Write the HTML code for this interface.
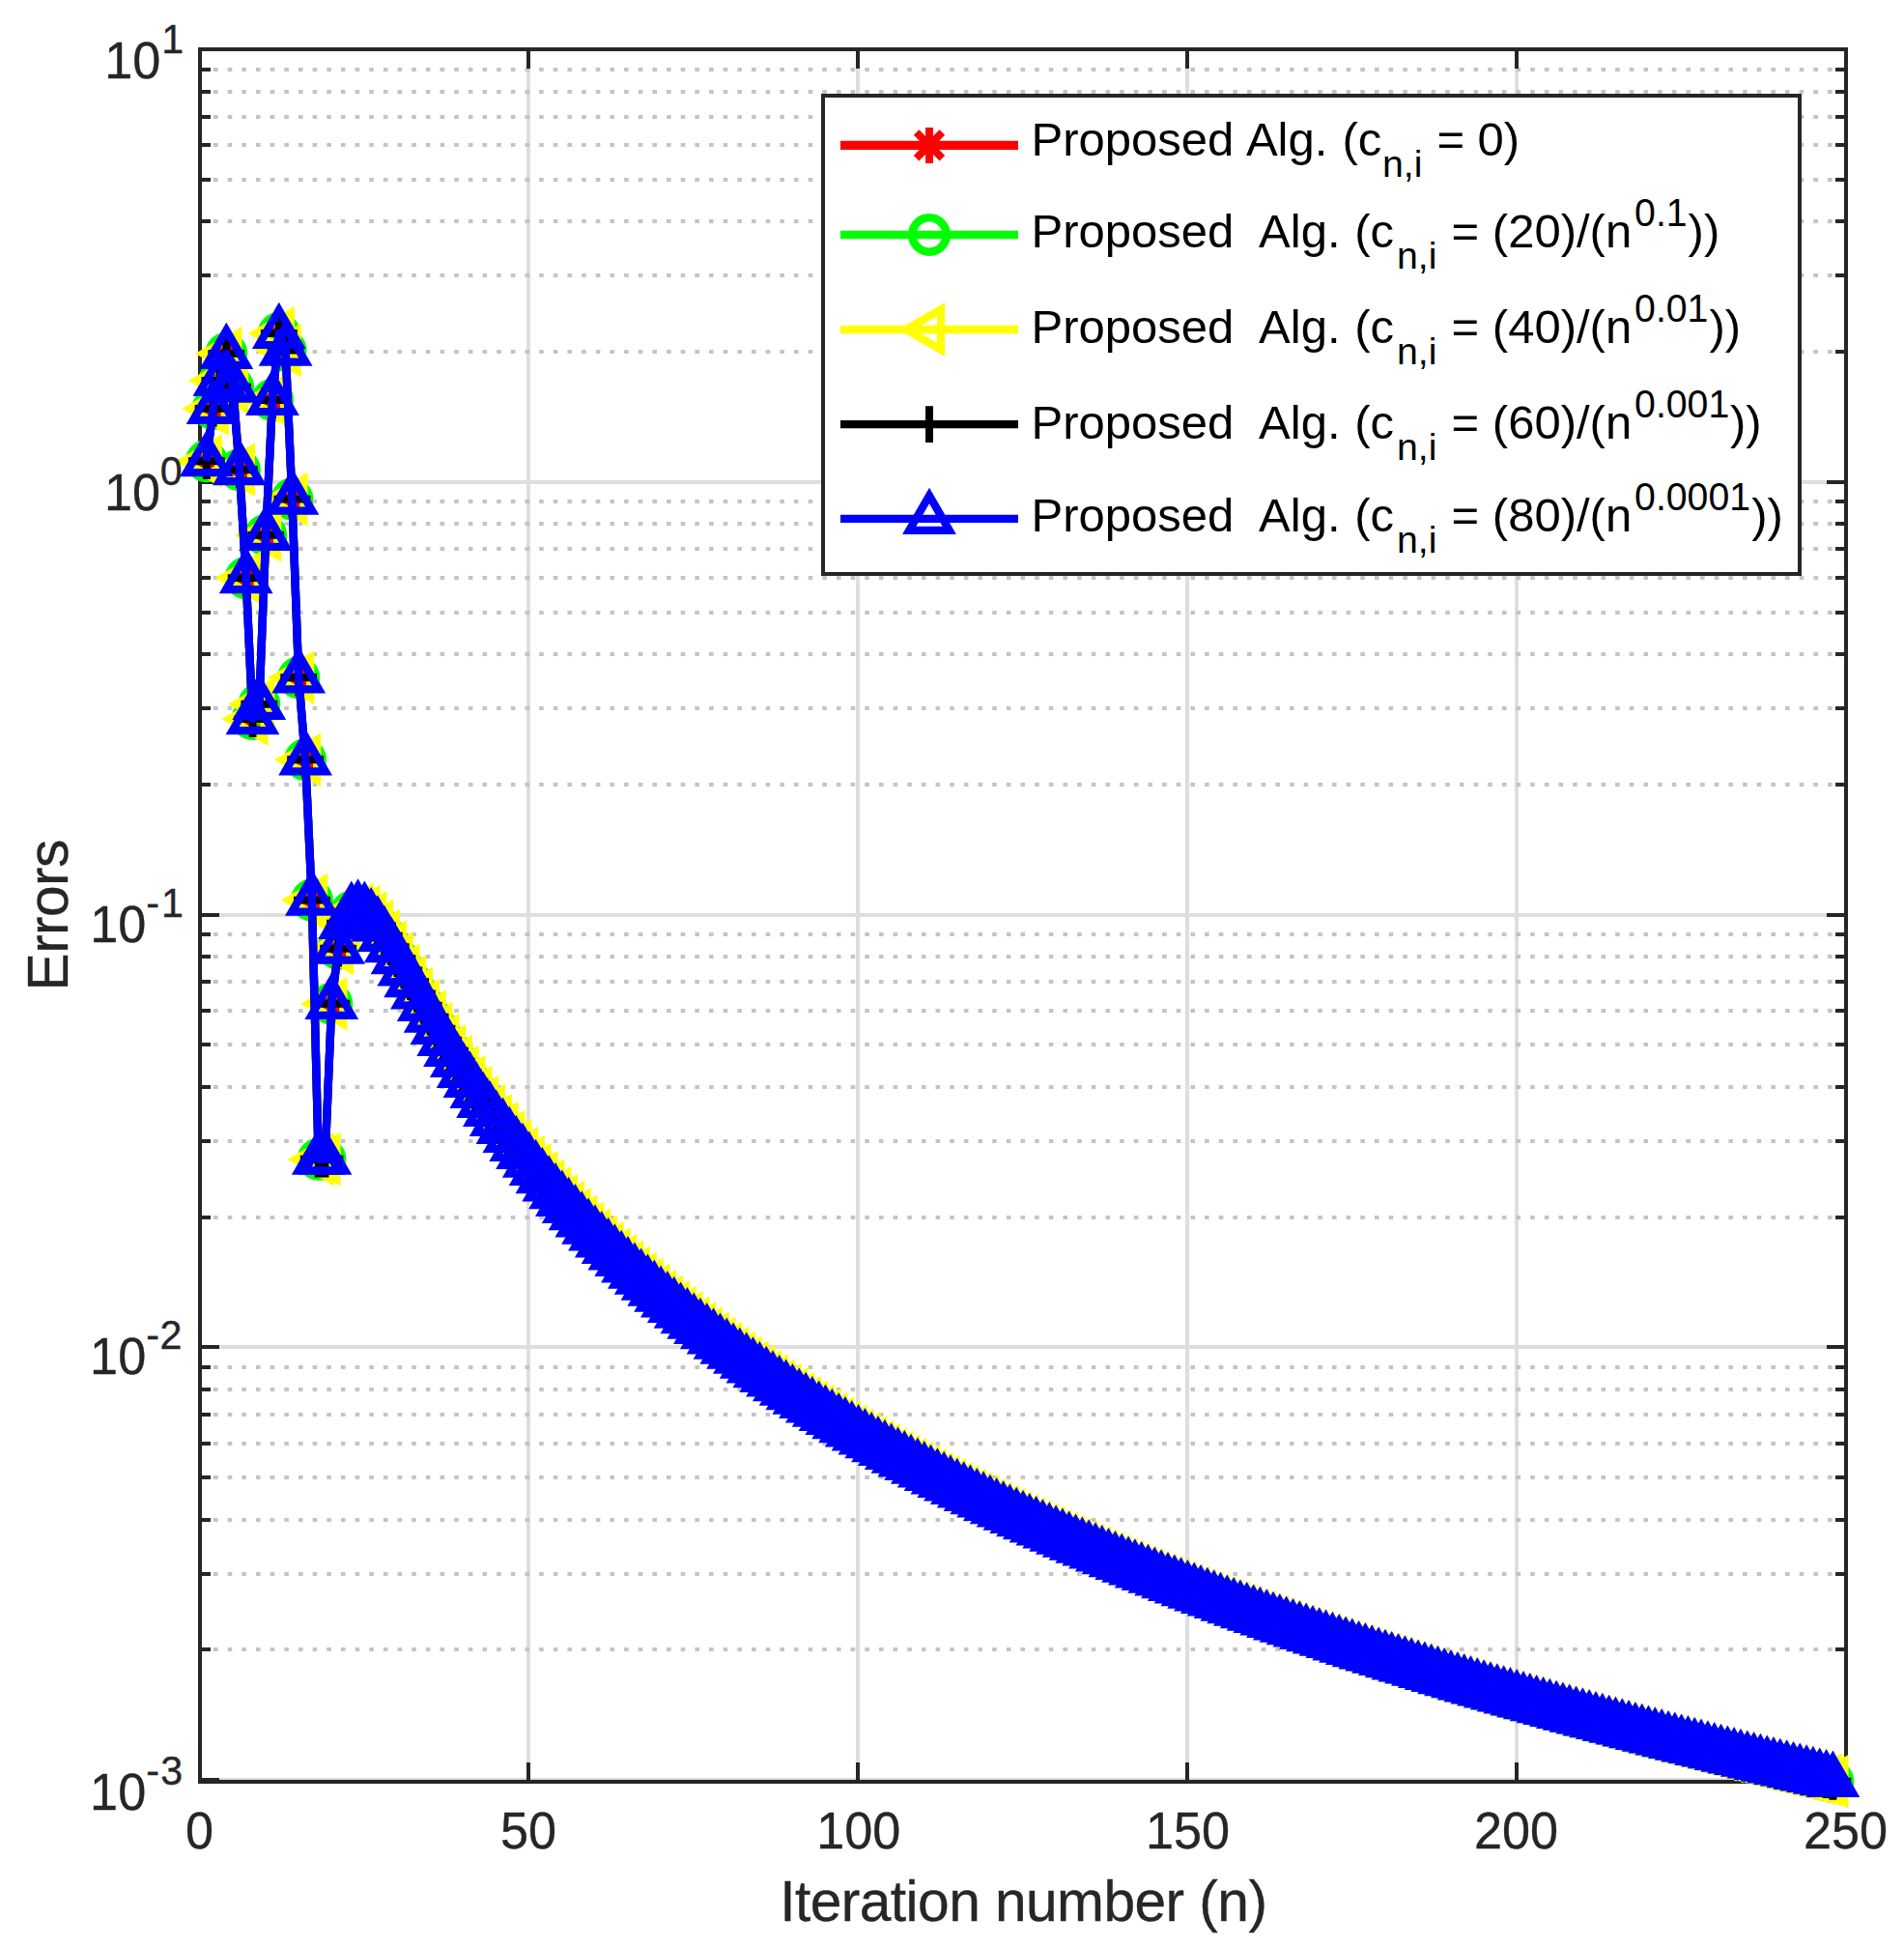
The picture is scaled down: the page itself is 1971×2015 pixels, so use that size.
<!DOCTYPE html>
<html><head><meta charset="utf-8"><title>Errors vs Iteration number</title>
<style>html,body{margin:0;padding:0;background:#fff}</style></head>
<body>
<svg width="1971" height="2015" viewBox="0 0 1971 2015" style="display:block">
<rect width="1971" height="2015" fill="#fff"/>
<defs>
<g id="mA"><path d="M-18.5 0H18.5M0 -18.5V18.5M-13.4 -13.4L13.4 13.4M-13.4 13.4L13.4 -13.4" fill="none" stroke="#f00" stroke-width="7.9"/></g>
<circle id="mO" r="17.7" fill="none" stroke="#0f0" stroke-width="8.6"/>
<path id="mL" d="M-24 0L12 -20.8V20.8Z" fill="none" stroke="#ff0" stroke-width="8.2" stroke-miterlimit="10"/>
<path id="mP" d="M-18.9 0H18.9M0 -18.9V18.9" fill="none" stroke="#000" stroke-width="7.9"/>
<path id="mT" d="M0 -24L20.8 12H-20.8Z" fill="none" stroke="#00f" stroke-width="8.2" stroke-miterlimit="10"/>
</defs>
<path d="M547.0 51.0V1844.0M888.0 51.0V1844.0M1229.0 51.0V1844.0M1570.0 51.0V1844.0M207.0 499H1911.0M207.0 947H1911.0M207.0 1394H1911.0M207.0 1842H1911.0" stroke="#dedede" stroke-width="4" fill="none"/>
<path d="M221.0 364H1900.0M221.0 285H1900.0M221.0 229H1900.0M221.0 186H1900.0M221.0 150H1900.0M221.0 121H1900.0M221.0 95H1900.0M221.0 72H1900.0M221.0 812H1900.0M221.0 733H1900.0M221.0 677H1900.0M221.0 634H1900.0M221.0 598H1900.0M221.0 568H1900.0M221.0 542H1900.0M221.0 519H1900.0M221.0 1260H1900.0M221.0 1181H1900.0M221.0 1125H1900.0M221.0 1081H1900.0M221.0 1046H1900.0M221.0 1016H1900.0M221.0 990H1900.0M221.0 967H1900.0M221.0 1707H1900.0M221.0 1629H1900.0M221.0 1573H1900.0M221.0 1529H1900.0M221.0 1494H1900.0M221.0 1464H1900.0M221.0 1438H1900.0M221.0 1415H1900.0" stroke="#c4c4c4" stroke-width="4" stroke-dasharray="4.6 10.058" fill="none"/>
<rect x="207.0" y="51.0" width="1704.0" height="1793.0" fill="none" stroke="#262626" stroke-width="4"/>
<path d="M547.0 1844.0v-20M547.0 51.0v20M888.0 1844.0v-20M888.0 51.0v20M1229.0 1844.0v-20M1229.0 51.0v20M1570.0 1844.0v-20M1570.0 51.0v20M207.0 51h20M1911.0 51h-20M207.0 499h20M1911.0 499h-20M207.0 947h20M1911.0 947h-20M207.0 1394h20M1911.0 1394h-20M207.0 1842h20M1911.0 1842h-20M207.0 364h11M1911.0 364h-11M207.0 285h11M1911.0 285h-11M207.0 229h11M1911.0 229h-11M207.0 186h11M1911.0 186h-11M207.0 150h11M1911.0 150h-11M207.0 121h11M1911.0 121h-11M207.0 95h11M1911.0 95h-11M207.0 72h11M1911.0 72h-11M207.0 812h11M1911.0 812h-11M207.0 733h11M1911.0 733h-11M207.0 677h11M1911.0 677h-11M207.0 634h11M1911.0 634h-11M207.0 598h11M1911.0 598h-11M207.0 568h11M1911.0 568h-11M207.0 542h11M1911.0 542h-11M207.0 519h11M1911.0 519h-11M207.0 1260h11M1911.0 1260h-11M207.0 1181h11M1911.0 1181h-11M207.0 1125h11M1911.0 1125h-11M207.0 1081h11M1911.0 1081h-11M207.0 1046h11M1911.0 1046h-11M207.0 1016h11M1911.0 1016h-11M207.0 990h11M1911.0 990h-11M207.0 967h11M1911.0 967h-11M207.0 1707h11M1911.0 1707h-11M207.0 1629h11M1911.0 1629h-11M207.0 1573h11M1911.0 1573h-11M207.0 1529h11M1911.0 1529h-11M207.0 1494h11M1911.0 1494h-11M207.0 1464h11M1911.0 1464h-11M207.0 1438h11M1911.0 1438h-11M207.0 1415h11M1911.0 1415h-11" stroke="#262626" stroke-width="4" fill="none"/>
<polyline points="213.8,477.2 220.6,422.9 227.4,393.9 234.3,365.9 241.1,400.6 247.9,486.2 254.7,598.1 261.5,744.1 268.3,728.8 275.2,553.9 282.0,414.0 288.8,345.0 295.6,362.6 302.4,516.6 309.2,701.3 316.1,786.3 322.9,931.6 329.7,1199.7 336.5,1199.7 343.3,1038.8 350.1,981.7 357.0,955.8 363.8,943.8 370.6,941.5 377.4,943.7 384.2,950.2 391.0,958.5 397.8,968.8 404.7,980.1 411.5,992.1 418.3,1004.4 425.1,1016.2 431.9,1028.5 438.7,1040.8 445.6,1052.7 452.4,1064.8 459.2,1076.8 466.0,1087.8 472.8,1098.8 479.6,1109.9 486.5,1119.8 493.3,1130.8 500.1,1140.8 506.9,1149.9 513.7,1159.8 520.5,1167.8 527.4,1177.0 534.2,1185.9 541.0,1193.9 547.8,1202.7 554.6,1210.9 561.4,1219.1 568.2,1227.4 575.1,1235.2 581.9,1242.8 588.7,1250.0 595.5,1257.2 602.3,1264.5 609.1,1271.6 616.0,1278.5 622.8,1285.3 629.6,1291.9 636.4,1298.5 643.2,1305.0 650.0,1311.3 656.9,1317.6 663.7,1323.7 670.5,1329.7 677.3,1335.7 684.1,1341.6 690.9,1347.3 697.8,1353.0 704.6,1358.6 711.4,1364.1 718.2,1369.6 725.0,1375.0 731.8,1380.2 738.6,1385.5 745.5,1390.6 752.3,1395.7 759.1,1400.7 765.9,1405.7 772.7,1410.6 779.5,1415.4 786.4,1420.1 793.2,1424.9 800.0,1429.5 806.8,1434.1 813.6,1438.6 820.4,1443.1 827.3,1447.6 834.1,1451.9 840.9,1456.3 847.7,1460.6 854.5,1464.8 861.3,1469.0 868.2,1473.1 875.0,1477.2 881.8,1481.3 888.6,1485.3 895.4,1489.3 902.2,1493.2 909.0,1497.1 915.9,1501.0 922.7,1504.8 929.5,1508.6 936.3,1512.3 943.1,1516.0 949.9,1519.7 956.8,1523.3 963.6,1526.9 970.4,1530.5 977.2,1534.0 984.0,1537.5 990.8,1541.0 997.7,1544.4 1004.5,1547.8 1011.3,1551.2 1018.1,1554.5 1024.9,1557.9 1031.7,1561.2 1038.6,1564.4 1045.4,1567.7 1052.2,1570.9 1059.0,1574.1 1065.8,1577.2 1072.6,1580.3 1079.4,1583.4 1086.3,1586.5 1093.1,1589.6 1099.9,1592.6 1106.7,1595.6 1113.5,1598.6 1120.3,1601.6 1127.2,1604.5 1134.0,1607.4 1140.8,1610.3 1147.6,1613.2 1154.4,1616.1 1161.2,1618.9 1168.1,1621.7 1174.9,1624.5 1181.7,1627.3 1188.5,1630.0 1195.3,1632.7 1202.1,1635.5 1209.0,1638.1 1215.8,1640.8 1222.6,1643.5 1229.4,1646.1 1236.2,1648.7 1243.0,1651.3 1249.8,1653.9 1256.7,1656.5 1263.5,1659.0 1270.3,1661.6 1277.1,1664.1 1283.9,1666.6 1290.7,1669.1 1297.6,1671.6 1304.4,1674.0 1311.2,1676.4 1318.0,1678.9 1324.8,1681.3 1331.6,1683.7 1338.5,1686.1 1345.3,1688.4 1352.1,1690.8 1358.9,1693.1 1365.7,1695.4 1372.5,1697.7 1379.4,1700.0 1386.2,1702.3 1393.0,1704.6 1399.8,1706.8 1406.6,1709.1 1413.4,1711.3 1420.2,1713.5 1427.1,1715.7 1433.9,1717.9 1440.7,1720.1 1447.5,1722.3 1454.3,1724.4 1461.1,1726.5 1468.0,1728.7 1474.8,1730.8 1481.6,1732.9 1488.4,1735.0 1495.2,1737.1 1502.0,1739.2 1508.9,1741.2 1515.7,1743.3 1522.5,1745.3 1529.3,1747.3 1536.1,1749.4 1542.9,1751.4 1549.8,1753.4 1556.6,1755.4 1563.4,1757.3 1570.2,1759.3 1577.0,1761.3 1583.8,1763.2 1590.6,1765.2 1597.5,1767.1 1604.3,1769.0 1611.1,1770.9 1617.9,1772.8 1624.7,1774.7 1631.5,1776.6 1638.4,1778.5 1645.2,1780.3 1652.0,1782.2 1658.8,1784.0 1665.6,1785.9 1672.4,1787.7 1679.3,1789.5 1686.1,1791.3 1692.9,1793.2 1699.7,1794.9 1706.5,1796.7 1713.3,1798.5 1720.2,1800.3 1727.0,1802.1 1733.8,1803.8 1740.6,1805.6 1747.4,1807.3 1754.2,1809.0 1761.0,1810.8 1767.9,1812.5 1774.7,1814.2 1781.5,1815.9 1788.3,1817.6 1795.1,1819.3 1801.9,1821.0 1808.8,1822.6 1815.6,1824.3 1822.4,1826.0 1829.2,1827.6 1836.0,1829.3 1842.8,1830.9 1849.7,1832.5 1856.5,1834.1 1863.3,1835.8 1870.1,1837.4 1876.9,1839.0 1883.7,1840.6 1890.6,1842.2 1897.4,1843.8" fill="none" stroke="#f00" stroke-width="8.4" stroke-linejoin="round"/>
<g><use href="#mA" x="213.8" y="477.2"/><use href="#mA" x="220.6" y="422.9"/><use href="#mA" x="227.4" y="393.9"/><use href="#mA" x="234.3" y="365.9"/><use href="#mA" x="241.1" y="400.6"/><use href="#mA" x="247.9" y="486.2"/><use href="#mA" x="254.7" y="598.1"/><use href="#mA" x="261.5" y="744.1"/><use href="#mA" x="268.3" y="728.8"/><use href="#mA" x="275.2" y="553.9"/><use href="#mA" x="282.0" y="414.0"/><use href="#mA" x="288.8" y="345.0"/><use href="#mA" x="295.6" y="362.6"/><use href="#mA" x="302.4" y="516.6"/><use href="#mA" x="309.2" y="701.3"/><use href="#mA" x="316.1" y="786.3"/><use href="#mA" x="322.9" y="931.6"/><use href="#mA" x="329.7" y="1199.7"/><use href="#mA" x="336.5" y="1199.7"/><use href="#mA" x="343.3" y="1038.8"/><use href="#mA" x="350.1" y="981.7"/><use href="#mA" x="357.0" y="955.8"/><use href="#mA" x="363.8" y="943.8"/><use href="#mA" x="370.6" y="941.5"/><use href="#mA" x="377.4" y="943.7"/><use href="#mA" x="384.2" y="950.2"/><use href="#mA" x="391.0" y="958.5"/><use href="#mA" x="397.8" y="968.8"/><use href="#mA" x="404.7" y="980.1"/><use href="#mA" x="411.5" y="992.1"/><use href="#mA" x="418.3" y="1004.4"/><use href="#mA" x="425.1" y="1016.2"/><use href="#mA" x="431.9" y="1028.5"/><use href="#mA" x="438.7" y="1040.8"/><use href="#mA" x="445.6" y="1052.7"/><use href="#mA" x="452.4" y="1064.8"/><use href="#mA" x="459.2" y="1076.8"/><use href="#mA" x="466.0" y="1087.8"/><use href="#mA" x="472.8" y="1098.8"/><use href="#mA" x="479.6" y="1109.9"/><use href="#mA" x="486.5" y="1119.8"/><use href="#mA" x="493.3" y="1130.8"/><use href="#mA" x="500.1" y="1140.8"/><use href="#mA" x="506.9" y="1149.9"/><use href="#mA" x="513.7" y="1159.8"/><use href="#mA" x="520.5" y="1167.8"/><use href="#mA" x="527.4" y="1177.0"/><use href="#mA" x="534.2" y="1185.9"/><use href="#mA" x="541.0" y="1193.9"/><use href="#mA" x="547.8" y="1202.7"/><use href="#mA" x="554.6" y="1210.9"/><use href="#mA" x="561.4" y="1219.1"/><use href="#mA" x="568.2" y="1227.4"/><use href="#mA" x="575.1" y="1235.2"/><use href="#mA" x="581.9" y="1242.8"/><use href="#mA" x="588.7" y="1250.0"/><use href="#mA" x="595.5" y="1257.2"/><use href="#mA" x="602.3" y="1264.5"/><use href="#mA" x="609.1" y="1271.6"/><use href="#mA" x="616.0" y="1278.5"/><use href="#mA" x="622.8" y="1285.3"/><use href="#mA" x="629.6" y="1291.9"/><use href="#mA" x="636.4" y="1298.5"/><use href="#mA" x="643.2" y="1305.0"/><use href="#mA" x="650.0" y="1311.3"/><use href="#mA" x="656.9" y="1317.6"/><use href="#mA" x="663.7" y="1323.7"/><use href="#mA" x="670.5" y="1329.7"/><use href="#mA" x="677.3" y="1335.7"/><use href="#mA" x="684.1" y="1341.6"/><use href="#mA" x="690.9" y="1347.3"/><use href="#mA" x="697.8" y="1353.0"/><use href="#mA" x="704.6" y="1358.6"/><use href="#mA" x="711.4" y="1364.1"/><use href="#mA" x="718.2" y="1369.6"/><use href="#mA" x="725.0" y="1375.0"/><use href="#mA" x="731.8" y="1380.2"/><use href="#mA" x="738.6" y="1385.5"/><use href="#mA" x="745.5" y="1390.6"/><use href="#mA" x="752.3" y="1395.7"/><use href="#mA" x="759.1" y="1400.7"/><use href="#mA" x="765.9" y="1405.7"/><use href="#mA" x="772.7" y="1410.6"/><use href="#mA" x="779.5" y="1415.4"/><use href="#mA" x="786.4" y="1420.1"/><use href="#mA" x="793.2" y="1424.9"/><use href="#mA" x="800.0" y="1429.5"/><use href="#mA" x="806.8" y="1434.1"/><use href="#mA" x="813.6" y="1438.6"/><use href="#mA" x="820.4" y="1443.1"/><use href="#mA" x="827.3" y="1447.6"/><use href="#mA" x="834.1" y="1451.9"/><use href="#mA" x="840.9" y="1456.3"/><use href="#mA" x="847.7" y="1460.6"/><use href="#mA" x="854.5" y="1464.8"/><use href="#mA" x="861.3" y="1469.0"/><use href="#mA" x="868.2" y="1473.1"/><use href="#mA" x="875.0" y="1477.2"/><use href="#mA" x="881.8" y="1481.3"/><use href="#mA" x="888.6" y="1485.3"/><use href="#mA" x="895.4" y="1489.3"/><use href="#mA" x="902.2" y="1493.2"/><use href="#mA" x="909.0" y="1497.1"/><use href="#mA" x="915.9" y="1501.0"/><use href="#mA" x="922.7" y="1504.8"/><use href="#mA" x="929.5" y="1508.6"/><use href="#mA" x="936.3" y="1512.3"/><use href="#mA" x="943.1" y="1516.0"/><use href="#mA" x="949.9" y="1519.7"/><use href="#mA" x="956.8" y="1523.3"/><use href="#mA" x="963.6" y="1526.9"/><use href="#mA" x="970.4" y="1530.5"/><use href="#mA" x="977.2" y="1534.0"/><use href="#mA" x="984.0" y="1537.5"/><use href="#mA" x="990.8" y="1541.0"/><use href="#mA" x="997.7" y="1544.4"/><use href="#mA" x="1004.5" y="1547.8"/><use href="#mA" x="1011.3" y="1551.2"/><use href="#mA" x="1018.1" y="1554.5"/><use href="#mA" x="1024.9" y="1557.9"/><use href="#mA" x="1031.7" y="1561.2"/><use href="#mA" x="1038.6" y="1564.4"/><use href="#mA" x="1045.4" y="1567.7"/><use href="#mA" x="1052.2" y="1570.9"/><use href="#mA" x="1059.0" y="1574.1"/><use href="#mA" x="1065.8" y="1577.2"/><use href="#mA" x="1072.6" y="1580.3"/><use href="#mA" x="1079.4" y="1583.4"/><use href="#mA" x="1086.3" y="1586.5"/><use href="#mA" x="1093.1" y="1589.6"/><use href="#mA" x="1099.9" y="1592.6"/><use href="#mA" x="1106.7" y="1595.6"/><use href="#mA" x="1113.5" y="1598.6"/><use href="#mA" x="1120.3" y="1601.6"/><use href="#mA" x="1127.2" y="1604.5"/><use href="#mA" x="1134.0" y="1607.4"/><use href="#mA" x="1140.8" y="1610.3"/><use href="#mA" x="1147.6" y="1613.2"/><use href="#mA" x="1154.4" y="1616.1"/><use href="#mA" x="1161.2" y="1618.9"/><use href="#mA" x="1168.1" y="1621.7"/><use href="#mA" x="1174.9" y="1624.5"/><use href="#mA" x="1181.7" y="1627.3"/><use href="#mA" x="1188.5" y="1630.0"/><use href="#mA" x="1195.3" y="1632.7"/><use href="#mA" x="1202.1" y="1635.5"/><use href="#mA" x="1209.0" y="1638.1"/><use href="#mA" x="1215.8" y="1640.8"/><use href="#mA" x="1222.6" y="1643.5"/><use href="#mA" x="1229.4" y="1646.1"/><use href="#mA" x="1236.2" y="1648.7"/><use href="#mA" x="1243.0" y="1651.3"/><use href="#mA" x="1249.8" y="1653.9"/><use href="#mA" x="1256.7" y="1656.5"/><use href="#mA" x="1263.5" y="1659.0"/><use href="#mA" x="1270.3" y="1661.6"/><use href="#mA" x="1277.1" y="1664.1"/><use href="#mA" x="1283.9" y="1666.6"/><use href="#mA" x="1290.7" y="1669.1"/><use href="#mA" x="1297.6" y="1671.6"/><use href="#mA" x="1304.4" y="1674.0"/><use href="#mA" x="1311.2" y="1676.4"/><use href="#mA" x="1318.0" y="1678.9"/><use href="#mA" x="1324.8" y="1681.3"/><use href="#mA" x="1331.6" y="1683.7"/><use href="#mA" x="1338.5" y="1686.1"/><use href="#mA" x="1345.3" y="1688.4"/><use href="#mA" x="1352.1" y="1690.8"/><use href="#mA" x="1358.9" y="1693.1"/><use href="#mA" x="1365.7" y="1695.4"/><use href="#mA" x="1372.5" y="1697.7"/><use href="#mA" x="1379.4" y="1700.0"/><use href="#mA" x="1386.2" y="1702.3"/><use href="#mA" x="1393.0" y="1704.6"/><use href="#mA" x="1399.8" y="1706.8"/><use href="#mA" x="1406.6" y="1709.1"/><use href="#mA" x="1413.4" y="1711.3"/><use href="#mA" x="1420.2" y="1713.5"/><use href="#mA" x="1427.1" y="1715.7"/><use href="#mA" x="1433.9" y="1717.9"/><use href="#mA" x="1440.7" y="1720.1"/><use href="#mA" x="1447.5" y="1722.3"/><use href="#mA" x="1454.3" y="1724.4"/><use href="#mA" x="1461.1" y="1726.5"/><use href="#mA" x="1468.0" y="1728.7"/><use href="#mA" x="1474.8" y="1730.8"/><use href="#mA" x="1481.6" y="1732.9"/><use href="#mA" x="1488.4" y="1735.0"/><use href="#mA" x="1495.2" y="1737.1"/><use href="#mA" x="1502.0" y="1739.2"/><use href="#mA" x="1508.9" y="1741.2"/><use href="#mA" x="1515.7" y="1743.3"/><use href="#mA" x="1522.5" y="1745.3"/><use href="#mA" x="1529.3" y="1747.3"/><use href="#mA" x="1536.1" y="1749.4"/><use href="#mA" x="1542.9" y="1751.4"/><use href="#mA" x="1549.8" y="1753.4"/><use href="#mA" x="1556.6" y="1755.4"/><use href="#mA" x="1563.4" y="1757.3"/><use href="#mA" x="1570.2" y="1759.3"/><use href="#mA" x="1577.0" y="1761.3"/><use href="#mA" x="1583.8" y="1763.2"/><use href="#mA" x="1590.6" y="1765.2"/><use href="#mA" x="1597.5" y="1767.1"/><use href="#mA" x="1604.3" y="1769.0"/><use href="#mA" x="1611.1" y="1770.9"/><use href="#mA" x="1617.9" y="1772.8"/><use href="#mA" x="1624.7" y="1774.7"/><use href="#mA" x="1631.5" y="1776.6"/><use href="#mA" x="1638.4" y="1778.5"/><use href="#mA" x="1645.2" y="1780.3"/><use href="#mA" x="1652.0" y="1782.2"/><use href="#mA" x="1658.8" y="1784.0"/><use href="#mA" x="1665.6" y="1785.9"/><use href="#mA" x="1672.4" y="1787.7"/><use href="#mA" x="1679.3" y="1789.5"/><use href="#mA" x="1686.1" y="1791.3"/><use href="#mA" x="1692.9" y="1793.2"/><use href="#mA" x="1699.7" y="1794.9"/><use href="#mA" x="1706.5" y="1796.7"/><use href="#mA" x="1713.3" y="1798.5"/><use href="#mA" x="1720.2" y="1800.3"/><use href="#mA" x="1727.0" y="1802.1"/><use href="#mA" x="1733.8" y="1803.8"/><use href="#mA" x="1740.6" y="1805.6"/><use href="#mA" x="1747.4" y="1807.3"/><use href="#mA" x="1754.2" y="1809.0"/><use href="#mA" x="1761.0" y="1810.8"/><use href="#mA" x="1767.9" y="1812.5"/><use href="#mA" x="1774.7" y="1814.2"/><use href="#mA" x="1781.5" y="1815.9"/><use href="#mA" x="1788.3" y="1817.6"/><use href="#mA" x="1795.1" y="1819.3"/><use href="#mA" x="1801.9" y="1821.0"/><use href="#mA" x="1808.8" y="1822.6"/><use href="#mA" x="1815.6" y="1824.3"/><use href="#mA" x="1822.4" y="1826.0"/><use href="#mA" x="1829.2" y="1827.6"/><use href="#mA" x="1836.0" y="1829.3"/><use href="#mA" x="1842.8" y="1830.9"/><use href="#mA" x="1849.7" y="1832.5"/><use href="#mA" x="1856.5" y="1834.1"/><use href="#mA" x="1863.3" y="1835.8"/><use href="#mA" x="1870.1" y="1837.4"/><use href="#mA" x="1876.9" y="1839.0"/><use href="#mA" x="1883.7" y="1840.6"/><use href="#mA" x="1890.6" y="1842.2"/><use href="#mA" x="1897.4" y="1843.8"/></g>
<polyline points="213.8,477.2 220.6,422.9 227.4,393.9 234.3,365.9 241.1,400.6 247.9,486.2 254.7,598.1 261.5,744.1 268.3,728.8 275.2,553.9 282.0,414.0 288.8,345.0 295.6,362.6 302.4,516.6 309.2,701.3 316.1,786.3 322.9,931.6 329.7,1199.7 336.5,1199.7 343.3,1038.8 350.1,981.7 357.0,955.8 363.8,943.8 370.6,941.5 377.4,943.7 384.2,950.2 391.0,958.5 397.8,968.8 404.7,980.1 411.5,992.1 418.3,1004.4 425.1,1016.2 431.9,1028.5 438.7,1040.8 445.6,1052.7 452.4,1064.8 459.2,1076.8 466.0,1087.8 472.8,1098.8 479.6,1109.9 486.5,1119.8 493.3,1130.8 500.1,1140.8 506.9,1149.9 513.7,1159.8 520.5,1167.8 527.4,1177.0 534.2,1185.9 541.0,1193.9 547.8,1202.7 554.6,1210.9 561.4,1219.1 568.2,1227.4 575.1,1235.2 581.9,1242.8 588.7,1250.0 595.5,1257.2 602.3,1264.5 609.1,1271.6 616.0,1278.5 622.8,1285.3 629.6,1291.9 636.4,1298.5 643.2,1305.0 650.0,1311.3 656.9,1317.6 663.7,1323.7 670.5,1329.7 677.3,1335.7 684.1,1341.6 690.9,1347.3 697.8,1353.0 704.6,1358.6 711.4,1364.1 718.2,1369.6 725.0,1375.0 731.8,1380.2 738.6,1385.5 745.5,1390.6 752.3,1395.7 759.1,1400.7 765.9,1405.7 772.7,1410.6 779.5,1415.4 786.4,1420.1 793.2,1424.9 800.0,1429.5 806.8,1434.1 813.6,1438.6 820.4,1443.1 827.3,1447.6 834.1,1451.9 840.9,1456.3 847.7,1460.6 854.5,1464.8 861.3,1469.0 868.2,1473.1 875.0,1477.2 881.8,1481.3 888.6,1485.3 895.4,1489.3 902.2,1493.2 909.0,1497.1 915.9,1501.0 922.7,1504.8 929.5,1508.6 936.3,1512.3 943.1,1516.0 949.9,1519.7 956.8,1523.3 963.6,1526.9 970.4,1530.5 977.2,1534.0 984.0,1537.5 990.8,1541.0 997.7,1544.4 1004.5,1547.8 1011.3,1551.2 1018.1,1554.5 1024.9,1557.9 1031.7,1561.2 1038.6,1564.4 1045.4,1567.7 1052.2,1570.9 1059.0,1574.1 1065.8,1577.2 1072.6,1580.3 1079.4,1583.4 1086.3,1586.5 1093.1,1589.6 1099.9,1592.6 1106.7,1595.6 1113.5,1598.6 1120.3,1601.6 1127.2,1604.5 1134.0,1607.4 1140.8,1610.3 1147.6,1613.2 1154.4,1616.1 1161.2,1618.9 1168.1,1621.7 1174.9,1624.5 1181.7,1627.3 1188.5,1630.0 1195.3,1632.7 1202.1,1635.5 1209.0,1638.1 1215.8,1640.8 1222.6,1643.5 1229.4,1646.1 1236.2,1648.7 1243.0,1651.3 1249.8,1653.9 1256.7,1656.5 1263.5,1659.0 1270.3,1661.6 1277.1,1664.1 1283.9,1666.6 1290.7,1669.1 1297.6,1671.6 1304.4,1674.0 1311.2,1676.4 1318.0,1678.9 1324.8,1681.3 1331.6,1683.7 1338.5,1686.1 1345.3,1688.4 1352.1,1690.8 1358.9,1693.1 1365.7,1695.4 1372.5,1697.7 1379.4,1700.0 1386.2,1702.3 1393.0,1704.6 1399.8,1706.8 1406.6,1709.1 1413.4,1711.3 1420.2,1713.5 1427.1,1715.7 1433.9,1717.9 1440.7,1720.1 1447.5,1722.3 1454.3,1724.4 1461.1,1726.5 1468.0,1728.7 1474.8,1730.8 1481.6,1732.9 1488.4,1735.0 1495.2,1737.1 1502.0,1739.2 1508.9,1741.2 1515.7,1743.3 1522.5,1745.3 1529.3,1747.3 1536.1,1749.4 1542.9,1751.4 1549.8,1753.4 1556.6,1755.4 1563.4,1757.3 1570.2,1759.3 1577.0,1761.3 1583.8,1763.2 1590.6,1765.2 1597.5,1767.1 1604.3,1769.0 1611.1,1770.9 1617.9,1772.8 1624.7,1774.7 1631.5,1776.6 1638.4,1778.5 1645.2,1780.3 1652.0,1782.2 1658.8,1784.0 1665.6,1785.9 1672.4,1787.7 1679.3,1789.5 1686.1,1791.3 1692.9,1793.2 1699.7,1794.9 1706.5,1796.7 1713.3,1798.5 1720.2,1800.3 1727.0,1802.1 1733.8,1803.8 1740.6,1805.6 1747.4,1807.3 1754.2,1809.0 1761.0,1810.8 1767.9,1812.5 1774.7,1814.2 1781.5,1815.9 1788.3,1817.6 1795.1,1819.3 1801.9,1821.0 1808.8,1822.6 1815.6,1824.3 1822.4,1826.0 1829.2,1827.6 1836.0,1829.3 1842.8,1830.9 1849.7,1832.5 1856.5,1834.1 1863.3,1835.8 1870.1,1837.4 1876.9,1839.0 1883.7,1840.6 1890.6,1842.2 1897.4,1843.8" fill="none" stroke="#0f0" stroke-width="8.4" stroke-linejoin="round"/>
<g><use href="#mO" x="213.8" y="477.2"/><use href="#mO" x="220.6" y="422.9"/><use href="#mO" x="227.4" y="393.9"/><use href="#mO" x="234.3" y="365.9"/><use href="#mO" x="241.1" y="400.6"/><use href="#mO" x="247.9" y="486.2"/><use href="#mO" x="254.7" y="598.1"/><use href="#mO" x="261.5" y="744.1"/><use href="#mO" x="268.3" y="728.8"/><use href="#mO" x="275.2" y="553.9"/><use href="#mO" x="282.0" y="414.0"/><use href="#mO" x="288.8" y="345.0"/><use href="#mO" x="295.6" y="362.6"/><use href="#mO" x="302.4" y="516.6"/><use href="#mO" x="309.2" y="701.3"/><use href="#mO" x="316.1" y="786.3"/><use href="#mO" x="322.9" y="931.6"/><use href="#mO" x="329.7" y="1199.7"/><use href="#mO" x="336.5" y="1199.7"/><use href="#mO" x="343.3" y="1038.8"/><use href="#mO" x="350.1" y="981.7"/><use href="#mO" x="357.0" y="955.8"/><use href="#mO" x="363.8" y="943.8"/><use href="#mO" x="370.6" y="941.5"/><use href="#mO" x="377.4" y="943.7"/><use href="#mO" x="384.2" y="950.2"/><use href="#mO" x="391.0" y="958.5"/><use href="#mO" x="397.8" y="968.8"/><use href="#mO" x="404.7" y="980.1"/><use href="#mO" x="411.5" y="992.1"/><use href="#mO" x="418.3" y="1004.4"/><use href="#mO" x="425.1" y="1016.2"/><use href="#mO" x="431.9" y="1028.5"/><use href="#mO" x="438.7" y="1040.8"/><use href="#mO" x="445.6" y="1052.7"/><use href="#mO" x="452.4" y="1064.8"/><use href="#mO" x="459.2" y="1076.8"/><use href="#mO" x="466.0" y="1087.8"/><use href="#mO" x="472.8" y="1098.8"/><use href="#mO" x="479.6" y="1109.9"/><use href="#mO" x="486.5" y="1119.8"/><use href="#mO" x="493.3" y="1130.8"/><use href="#mO" x="500.1" y="1140.8"/><use href="#mO" x="506.9" y="1149.9"/><use href="#mO" x="513.7" y="1159.8"/><use href="#mO" x="520.5" y="1167.8"/><use href="#mO" x="527.4" y="1177.0"/><use href="#mO" x="534.2" y="1185.9"/><use href="#mO" x="541.0" y="1193.9"/><use href="#mO" x="547.8" y="1202.7"/><use href="#mO" x="554.6" y="1210.9"/><use href="#mO" x="561.4" y="1219.1"/><use href="#mO" x="568.2" y="1227.4"/><use href="#mO" x="575.1" y="1235.2"/><use href="#mO" x="581.9" y="1242.8"/><use href="#mO" x="588.7" y="1250.0"/><use href="#mO" x="595.5" y="1257.2"/><use href="#mO" x="602.3" y="1264.5"/><use href="#mO" x="609.1" y="1271.6"/><use href="#mO" x="616.0" y="1278.5"/><use href="#mO" x="622.8" y="1285.3"/><use href="#mO" x="629.6" y="1291.9"/><use href="#mO" x="636.4" y="1298.5"/><use href="#mO" x="643.2" y="1305.0"/><use href="#mO" x="650.0" y="1311.3"/><use href="#mO" x="656.9" y="1317.6"/><use href="#mO" x="663.7" y="1323.7"/><use href="#mO" x="670.5" y="1329.7"/><use href="#mO" x="677.3" y="1335.7"/><use href="#mO" x="684.1" y="1341.6"/><use href="#mO" x="690.9" y="1347.3"/><use href="#mO" x="697.8" y="1353.0"/><use href="#mO" x="704.6" y="1358.6"/><use href="#mO" x="711.4" y="1364.1"/><use href="#mO" x="718.2" y="1369.6"/><use href="#mO" x="725.0" y="1375.0"/><use href="#mO" x="731.8" y="1380.2"/><use href="#mO" x="738.6" y="1385.5"/><use href="#mO" x="745.5" y="1390.6"/><use href="#mO" x="752.3" y="1395.7"/><use href="#mO" x="759.1" y="1400.7"/><use href="#mO" x="765.9" y="1405.7"/><use href="#mO" x="772.7" y="1410.6"/><use href="#mO" x="779.5" y="1415.4"/><use href="#mO" x="786.4" y="1420.1"/><use href="#mO" x="793.2" y="1424.9"/><use href="#mO" x="800.0" y="1429.5"/><use href="#mO" x="806.8" y="1434.1"/><use href="#mO" x="813.6" y="1438.6"/><use href="#mO" x="820.4" y="1443.1"/><use href="#mO" x="827.3" y="1447.6"/><use href="#mO" x="834.1" y="1451.9"/><use href="#mO" x="840.9" y="1456.3"/><use href="#mO" x="847.7" y="1460.6"/><use href="#mO" x="854.5" y="1464.8"/><use href="#mO" x="861.3" y="1469.0"/><use href="#mO" x="868.2" y="1473.1"/><use href="#mO" x="875.0" y="1477.2"/><use href="#mO" x="881.8" y="1481.3"/><use href="#mO" x="888.6" y="1485.3"/><use href="#mO" x="895.4" y="1489.3"/><use href="#mO" x="902.2" y="1493.2"/><use href="#mO" x="909.0" y="1497.1"/><use href="#mO" x="915.9" y="1501.0"/><use href="#mO" x="922.7" y="1504.8"/><use href="#mO" x="929.5" y="1508.6"/><use href="#mO" x="936.3" y="1512.3"/><use href="#mO" x="943.1" y="1516.0"/><use href="#mO" x="949.9" y="1519.7"/><use href="#mO" x="956.8" y="1523.3"/><use href="#mO" x="963.6" y="1526.9"/><use href="#mO" x="970.4" y="1530.5"/><use href="#mO" x="977.2" y="1534.0"/><use href="#mO" x="984.0" y="1537.5"/><use href="#mO" x="990.8" y="1541.0"/><use href="#mO" x="997.7" y="1544.4"/><use href="#mO" x="1004.5" y="1547.8"/><use href="#mO" x="1011.3" y="1551.2"/><use href="#mO" x="1018.1" y="1554.5"/><use href="#mO" x="1024.9" y="1557.9"/><use href="#mO" x="1031.7" y="1561.2"/><use href="#mO" x="1038.6" y="1564.4"/><use href="#mO" x="1045.4" y="1567.7"/><use href="#mO" x="1052.2" y="1570.9"/><use href="#mO" x="1059.0" y="1574.1"/><use href="#mO" x="1065.8" y="1577.2"/><use href="#mO" x="1072.6" y="1580.3"/><use href="#mO" x="1079.4" y="1583.4"/><use href="#mO" x="1086.3" y="1586.5"/><use href="#mO" x="1093.1" y="1589.6"/><use href="#mO" x="1099.9" y="1592.6"/><use href="#mO" x="1106.7" y="1595.6"/><use href="#mO" x="1113.5" y="1598.6"/><use href="#mO" x="1120.3" y="1601.6"/><use href="#mO" x="1127.2" y="1604.5"/><use href="#mO" x="1134.0" y="1607.4"/><use href="#mO" x="1140.8" y="1610.3"/><use href="#mO" x="1147.6" y="1613.2"/><use href="#mO" x="1154.4" y="1616.1"/><use href="#mO" x="1161.2" y="1618.9"/><use href="#mO" x="1168.1" y="1621.7"/><use href="#mO" x="1174.9" y="1624.5"/><use href="#mO" x="1181.7" y="1627.3"/><use href="#mO" x="1188.5" y="1630.0"/><use href="#mO" x="1195.3" y="1632.7"/><use href="#mO" x="1202.1" y="1635.5"/><use href="#mO" x="1209.0" y="1638.1"/><use href="#mO" x="1215.8" y="1640.8"/><use href="#mO" x="1222.6" y="1643.5"/><use href="#mO" x="1229.4" y="1646.1"/><use href="#mO" x="1236.2" y="1648.7"/><use href="#mO" x="1243.0" y="1651.3"/><use href="#mO" x="1249.8" y="1653.9"/><use href="#mO" x="1256.7" y="1656.5"/><use href="#mO" x="1263.5" y="1659.0"/><use href="#mO" x="1270.3" y="1661.6"/><use href="#mO" x="1277.1" y="1664.1"/><use href="#mO" x="1283.9" y="1666.6"/><use href="#mO" x="1290.7" y="1669.1"/><use href="#mO" x="1297.6" y="1671.6"/><use href="#mO" x="1304.4" y="1674.0"/><use href="#mO" x="1311.2" y="1676.4"/><use href="#mO" x="1318.0" y="1678.9"/><use href="#mO" x="1324.8" y="1681.3"/><use href="#mO" x="1331.6" y="1683.7"/><use href="#mO" x="1338.5" y="1686.1"/><use href="#mO" x="1345.3" y="1688.4"/><use href="#mO" x="1352.1" y="1690.8"/><use href="#mO" x="1358.9" y="1693.1"/><use href="#mO" x="1365.7" y="1695.4"/><use href="#mO" x="1372.5" y="1697.7"/><use href="#mO" x="1379.4" y="1700.0"/><use href="#mO" x="1386.2" y="1702.3"/><use href="#mO" x="1393.0" y="1704.6"/><use href="#mO" x="1399.8" y="1706.8"/><use href="#mO" x="1406.6" y="1709.1"/><use href="#mO" x="1413.4" y="1711.3"/><use href="#mO" x="1420.2" y="1713.5"/><use href="#mO" x="1427.1" y="1715.7"/><use href="#mO" x="1433.9" y="1717.9"/><use href="#mO" x="1440.7" y="1720.1"/><use href="#mO" x="1447.5" y="1722.3"/><use href="#mO" x="1454.3" y="1724.4"/><use href="#mO" x="1461.1" y="1726.5"/><use href="#mO" x="1468.0" y="1728.7"/><use href="#mO" x="1474.8" y="1730.8"/><use href="#mO" x="1481.6" y="1732.9"/><use href="#mO" x="1488.4" y="1735.0"/><use href="#mO" x="1495.2" y="1737.1"/><use href="#mO" x="1502.0" y="1739.2"/><use href="#mO" x="1508.9" y="1741.2"/><use href="#mO" x="1515.7" y="1743.3"/><use href="#mO" x="1522.5" y="1745.3"/><use href="#mO" x="1529.3" y="1747.3"/><use href="#mO" x="1536.1" y="1749.4"/><use href="#mO" x="1542.9" y="1751.4"/><use href="#mO" x="1549.8" y="1753.4"/><use href="#mO" x="1556.6" y="1755.4"/><use href="#mO" x="1563.4" y="1757.3"/><use href="#mO" x="1570.2" y="1759.3"/><use href="#mO" x="1577.0" y="1761.3"/><use href="#mO" x="1583.8" y="1763.2"/><use href="#mO" x="1590.6" y="1765.2"/><use href="#mO" x="1597.5" y="1767.1"/><use href="#mO" x="1604.3" y="1769.0"/><use href="#mO" x="1611.1" y="1770.9"/><use href="#mO" x="1617.9" y="1772.8"/><use href="#mO" x="1624.7" y="1774.7"/><use href="#mO" x="1631.5" y="1776.6"/><use href="#mO" x="1638.4" y="1778.5"/><use href="#mO" x="1645.2" y="1780.3"/><use href="#mO" x="1652.0" y="1782.2"/><use href="#mO" x="1658.8" y="1784.0"/><use href="#mO" x="1665.6" y="1785.9"/><use href="#mO" x="1672.4" y="1787.7"/><use href="#mO" x="1679.3" y="1789.5"/><use href="#mO" x="1686.1" y="1791.3"/><use href="#mO" x="1692.9" y="1793.2"/><use href="#mO" x="1699.7" y="1794.9"/><use href="#mO" x="1706.5" y="1796.7"/><use href="#mO" x="1713.3" y="1798.5"/><use href="#mO" x="1720.2" y="1800.3"/><use href="#mO" x="1727.0" y="1802.1"/><use href="#mO" x="1733.8" y="1803.8"/><use href="#mO" x="1740.6" y="1805.6"/><use href="#mO" x="1747.4" y="1807.3"/><use href="#mO" x="1754.2" y="1809.0"/><use href="#mO" x="1761.0" y="1810.8"/><use href="#mO" x="1767.9" y="1812.5"/><use href="#mO" x="1774.7" y="1814.2"/><use href="#mO" x="1781.5" y="1815.9"/><use href="#mO" x="1788.3" y="1817.6"/><use href="#mO" x="1795.1" y="1819.3"/><use href="#mO" x="1801.9" y="1821.0"/><use href="#mO" x="1808.8" y="1822.6"/><use href="#mO" x="1815.6" y="1824.3"/><use href="#mO" x="1822.4" y="1826.0"/><use href="#mO" x="1829.2" y="1827.6"/><use href="#mO" x="1836.0" y="1829.3"/><use href="#mO" x="1842.8" y="1830.9"/><use href="#mO" x="1849.7" y="1832.5"/><use href="#mO" x="1856.5" y="1834.1"/><use href="#mO" x="1863.3" y="1835.8"/><use href="#mO" x="1870.1" y="1837.4"/><use href="#mO" x="1876.9" y="1839.0"/><use href="#mO" x="1883.7" y="1840.6"/><use href="#mO" x="1890.6" y="1842.2"/><use href="#mO" x="1897.4" y="1843.8"/></g>
<polyline points="213.8,477.2 220.6,422.9 227.4,393.9 234.3,365.9 241.1,400.6 247.9,486.2 254.7,598.1 261.5,744.1 268.3,728.8 275.2,553.9 282.0,414.0 288.8,345.0 295.6,362.6 302.4,516.6 309.2,701.3 316.1,786.3 322.9,931.6 329.7,1199.7 336.5,1199.7 343.3,1038.8 350.1,981.7 357.0,955.8 363.8,943.8 370.6,941.5 377.4,943.7 384.2,950.2 391.0,958.5 397.8,968.8 404.7,980.1 411.5,992.1 418.3,1004.4 425.1,1016.2 431.9,1028.5 438.7,1040.8 445.6,1052.7 452.4,1064.8 459.2,1076.8 466.0,1087.8 472.8,1098.8 479.6,1109.9 486.5,1119.8 493.3,1130.8 500.1,1140.8 506.9,1149.9 513.7,1159.8 520.5,1167.8 527.4,1177.0 534.2,1185.9 541.0,1193.9 547.8,1202.7 554.6,1210.9 561.4,1219.1 568.2,1227.4 575.1,1235.2 581.9,1242.8 588.7,1250.0 595.5,1257.2 602.3,1264.5 609.1,1271.6 616.0,1278.5 622.8,1285.3 629.6,1291.9 636.4,1298.5 643.2,1305.0 650.0,1311.3 656.9,1317.6 663.7,1323.7 670.5,1329.7 677.3,1335.7 684.1,1341.6 690.9,1347.3 697.8,1353.0 704.6,1358.6 711.4,1364.1 718.2,1369.6 725.0,1375.0 731.8,1380.2 738.6,1385.5 745.5,1390.6 752.3,1395.7 759.1,1400.7 765.9,1405.7 772.7,1410.6 779.5,1415.4 786.4,1420.1 793.2,1424.9 800.0,1429.5 806.8,1434.1 813.6,1438.6 820.4,1443.1 827.3,1447.6 834.1,1451.9 840.9,1456.3 847.7,1460.6 854.5,1464.8 861.3,1469.0 868.2,1473.1 875.0,1477.2 881.8,1481.3 888.6,1485.3 895.4,1489.3 902.2,1493.2 909.0,1497.1 915.9,1501.0 922.7,1504.8 929.5,1508.6 936.3,1512.3 943.1,1516.0 949.9,1519.7 956.8,1523.3 963.6,1526.9 970.4,1530.5 977.2,1534.0 984.0,1537.5 990.8,1541.0 997.7,1544.4 1004.5,1547.8 1011.3,1551.2 1018.1,1554.5 1024.9,1557.9 1031.7,1561.2 1038.6,1564.4 1045.4,1567.7 1052.2,1570.9 1059.0,1574.1 1065.8,1577.2 1072.6,1580.3 1079.4,1583.4 1086.3,1586.5 1093.1,1589.6 1099.9,1592.6 1106.7,1595.6 1113.5,1598.6 1120.3,1601.6 1127.2,1604.5 1134.0,1607.4 1140.8,1610.3 1147.6,1613.2 1154.4,1616.1 1161.2,1618.9 1168.1,1621.7 1174.9,1624.5 1181.7,1627.3 1188.5,1630.0 1195.3,1632.7 1202.1,1635.5 1209.0,1638.1 1215.8,1640.8 1222.6,1643.5 1229.4,1646.1 1236.2,1648.7 1243.0,1651.3 1249.8,1653.9 1256.7,1656.5 1263.5,1659.0 1270.3,1661.6 1277.1,1664.1 1283.9,1666.6 1290.7,1669.1 1297.6,1671.6 1304.4,1674.0 1311.2,1676.4 1318.0,1678.9 1324.8,1681.3 1331.6,1683.7 1338.5,1686.1 1345.3,1688.4 1352.1,1690.8 1358.9,1693.1 1365.7,1695.4 1372.5,1697.7 1379.4,1700.0 1386.2,1702.3 1393.0,1704.6 1399.8,1706.8 1406.6,1709.1 1413.4,1711.3 1420.2,1713.5 1427.1,1715.7 1433.9,1717.9 1440.7,1720.1 1447.5,1722.3 1454.3,1724.4 1461.1,1726.5 1468.0,1728.7 1474.8,1730.8 1481.6,1732.9 1488.4,1735.0 1495.2,1737.1 1502.0,1739.2 1508.9,1741.2 1515.7,1743.3 1522.5,1745.3 1529.3,1747.3 1536.1,1749.4 1542.9,1751.4 1549.8,1753.4 1556.6,1755.4 1563.4,1757.3 1570.2,1759.3 1577.0,1761.3 1583.8,1763.2 1590.6,1765.2 1597.5,1767.1 1604.3,1769.0 1611.1,1770.9 1617.9,1772.8 1624.7,1774.7 1631.5,1776.6 1638.4,1778.5 1645.2,1780.3 1652.0,1782.2 1658.8,1784.0 1665.6,1785.9 1672.4,1787.7 1679.3,1789.5 1686.1,1791.3 1692.9,1793.2 1699.7,1794.9 1706.5,1796.7 1713.3,1798.5 1720.2,1800.3 1727.0,1802.1 1733.8,1803.8 1740.6,1805.6 1747.4,1807.3 1754.2,1809.0 1761.0,1810.8 1767.9,1812.5 1774.7,1814.2 1781.5,1815.9 1788.3,1817.6 1795.1,1819.3 1801.9,1821.0 1808.8,1822.6 1815.6,1824.3 1822.4,1826.0 1829.2,1827.6 1836.0,1829.3 1842.8,1830.9 1849.7,1832.5 1856.5,1834.1 1863.3,1835.8 1870.1,1837.4 1876.9,1839.0 1883.7,1840.6 1890.6,1842.2 1897.4,1843.8" fill="none" stroke="#ff0" stroke-width="8.4" stroke-linejoin="round"/>
<g><use href="#mL" x="213.8" y="477.2"/><use href="#mL" x="220.6" y="422.9"/><use href="#mL" x="227.4" y="393.9"/><use href="#mL" x="234.3" y="365.9"/><use href="#mL" x="241.1" y="400.6"/><use href="#mL" x="247.9" y="486.2"/><use href="#mL" x="254.7" y="598.1"/><use href="#mL" x="261.5" y="744.1"/><use href="#mL" x="268.3" y="728.8"/><use href="#mL" x="275.2" y="553.9"/><use href="#mL" x="282.0" y="414.0"/><use href="#mL" x="288.8" y="345.0"/><use href="#mL" x="295.6" y="362.6"/><use href="#mL" x="302.4" y="516.6"/><use href="#mL" x="309.2" y="701.3"/><use href="#mL" x="316.1" y="786.3"/><use href="#mL" x="322.9" y="931.6"/><use href="#mL" x="329.7" y="1199.7"/><use href="#mL" x="336.5" y="1199.7"/><use href="#mL" x="343.3" y="1038.8"/><use href="#mL" x="350.1" y="981.7"/><use href="#mL" x="357.0" y="955.8"/><use href="#mL" x="363.8" y="943.8"/><use href="#mL" x="370.6" y="941.5"/><use href="#mL" x="377.4" y="943.7"/><use href="#mL" x="384.2" y="950.2"/><use href="#mL" x="391.0" y="958.5"/><use href="#mL" x="397.8" y="968.8"/><use href="#mL" x="404.7" y="980.1"/><use href="#mL" x="411.5" y="992.1"/><use href="#mL" x="418.3" y="1004.4"/><use href="#mL" x="425.1" y="1016.2"/><use href="#mL" x="431.9" y="1028.5"/><use href="#mL" x="438.7" y="1040.8"/><use href="#mL" x="445.6" y="1052.7"/><use href="#mL" x="452.4" y="1064.8"/><use href="#mL" x="459.2" y="1076.8"/><use href="#mL" x="466.0" y="1087.8"/><use href="#mL" x="472.8" y="1098.8"/><use href="#mL" x="479.6" y="1109.9"/><use href="#mL" x="486.5" y="1119.8"/><use href="#mL" x="493.3" y="1130.8"/><use href="#mL" x="500.1" y="1140.8"/><use href="#mL" x="506.9" y="1149.9"/><use href="#mL" x="513.7" y="1159.8"/><use href="#mL" x="520.5" y="1167.8"/><use href="#mL" x="527.4" y="1177.0"/><use href="#mL" x="534.2" y="1185.9"/><use href="#mL" x="541.0" y="1193.9"/><use href="#mL" x="547.8" y="1202.7"/><use href="#mL" x="554.6" y="1210.9"/><use href="#mL" x="561.4" y="1219.1"/><use href="#mL" x="568.2" y="1227.4"/><use href="#mL" x="575.1" y="1235.2"/><use href="#mL" x="581.9" y="1242.8"/><use href="#mL" x="588.7" y="1250.0"/><use href="#mL" x="595.5" y="1257.2"/><use href="#mL" x="602.3" y="1264.5"/><use href="#mL" x="609.1" y="1271.6"/><use href="#mL" x="616.0" y="1278.5"/><use href="#mL" x="622.8" y="1285.3"/><use href="#mL" x="629.6" y="1291.9"/><use href="#mL" x="636.4" y="1298.5"/><use href="#mL" x="643.2" y="1305.0"/><use href="#mL" x="650.0" y="1311.3"/><use href="#mL" x="656.9" y="1317.6"/><use href="#mL" x="663.7" y="1323.7"/><use href="#mL" x="670.5" y="1329.7"/><use href="#mL" x="677.3" y="1335.7"/><use href="#mL" x="684.1" y="1341.6"/><use href="#mL" x="690.9" y="1347.3"/><use href="#mL" x="697.8" y="1353.0"/><use href="#mL" x="704.6" y="1358.6"/><use href="#mL" x="711.4" y="1364.1"/><use href="#mL" x="718.2" y="1369.6"/><use href="#mL" x="725.0" y="1375.0"/><use href="#mL" x="731.8" y="1380.2"/><use href="#mL" x="738.6" y="1385.5"/><use href="#mL" x="745.5" y="1390.6"/><use href="#mL" x="752.3" y="1395.7"/><use href="#mL" x="759.1" y="1400.7"/><use href="#mL" x="765.9" y="1405.7"/><use href="#mL" x="772.7" y="1410.6"/><use href="#mL" x="779.5" y="1415.4"/><use href="#mL" x="786.4" y="1420.1"/><use href="#mL" x="793.2" y="1424.9"/><use href="#mL" x="800.0" y="1429.5"/><use href="#mL" x="806.8" y="1434.1"/><use href="#mL" x="813.6" y="1438.6"/><use href="#mL" x="820.4" y="1443.1"/><use href="#mL" x="827.3" y="1447.6"/><use href="#mL" x="834.1" y="1451.9"/><use href="#mL" x="840.9" y="1456.3"/><use href="#mL" x="847.7" y="1460.6"/><use href="#mL" x="854.5" y="1464.8"/><use href="#mL" x="861.3" y="1469.0"/><use href="#mL" x="868.2" y="1473.1"/><use href="#mL" x="875.0" y="1477.2"/><use href="#mL" x="881.8" y="1481.3"/><use href="#mL" x="888.6" y="1485.3"/><use href="#mL" x="895.4" y="1489.3"/><use href="#mL" x="902.2" y="1493.2"/><use href="#mL" x="909.0" y="1497.1"/><use href="#mL" x="915.9" y="1501.0"/><use href="#mL" x="922.7" y="1504.8"/><use href="#mL" x="929.5" y="1508.6"/><use href="#mL" x="936.3" y="1512.3"/><use href="#mL" x="943.1" y="1516.0"/><use href="#mL" x="949.9" y="1519.7"/><use href="#mL" x="956.8" y="1523.3"/><use href="#mL" x="963.6" y="1526.9"/><use href="#mL" x="970.4" y="1530.5"/><use href="#mL" x="977.2" y="1534.0"/><use href="#mL" x="984.0" y="1537.5"/><use href="#mL" x="990.8" y="1541.0"/><use href="#mL" x="997.7" y="1544.4"/><use href="#mL" x="1004.5" y="1547.8"/><use href="#mL" x="1011.3" y="1551.2"/><use href="#mL" x="1018.1" y="1554.5"/><use href="#mL" x="1024.9" y="1557.9"/><use href="#mL" x="1031.7" y="1561.2"/><use href="#mL" x="1038.6" y="1564.4"/><use href="#mL" x="1045.4" y="1567.7"/><use href="#mL" x="1052.2" y="1570.9"/><use href="#mL" x="1059.0" y="1574.1"/><use href="#mL" x="1065.8" y="1577.2"/><use href="#mL" x="1072.6" y="1580.3"/><use href="#mL" x="1079.4" y="1583.4"/><use href="#mL" x="1086.3" y="1586.5"/><use href="#mL" x="1093.1" y="1589.6"/><use href="#mL" x="1099.9" y="1592.6"/><use href="#mL" x="1106.7" y="1595.6"/><use href="#mL" x="1113.5" y="1598.6"/><use href="#mL" x="1120.3" y="1601.6"/><use href="#mL" x="1127.2" y="1604.5"/><use href="#mL" x="1134.0" y="1607.4"/><use href="#mL" x="1140.8" y="1610.3"/><use href="#mL" x="1147.6" y="1613.2"/><use href="#mL" x="1154.4" y="1616.1"/><use href="#mL" x="1161.2" y="1618.9"/><use href="#mL" x="1168.1" y="1621.7"/><use href="#mL" x="1174.9" y="1624.5"/><use href="#mL" x="1181.7" y="1627.3"/><use href="#mL" x="1188.5" y="1630.0"/><use href="#mL" x="1195.3" y="1632.7"/><use href="#mL" x="1202.1" y="1635.5"/><use href="#mL" x="1209.0" y="1638.1"/><use href="#mL" x="1215.8" y="1640.8"/><use href="#mL" x="1222.6" y="1643.5"/><use href="#mL" x="1229.4" y="1646.1"/><use href="#mL" x="1236.2" y="1648.7"/><use href="#mL" x="1243.0" y="1651.3"/><use href="#mL" x="1249.8" y="1653.9"/><use href="#mL" x="1256.7" y="1656.5"/><use href="#mL" x="1263.5" y="1659.0"/><use href="#mL" x="1270.3" y="1661.6"/><use href="#mL" x="1277.1" y="1664.1"/><use href="#mL" x="1283.9" y="1666.6"/><use href="#mL" x="1290.7" y="1669.1"/><use href="#mL" x="1297.6" y="1671.6"/><use href="#mL" x="1304.4" y="1674.0"/><use href="#mL" x="1311.2" y="1676.4"/><use href="#mL" x="1318.0" y="1678.9"/><use href="#mL" x="1324.8" y="1681.3"/><use href="#mL" x="1331.6" y="1683.7"/><use href="#mL" x="1338.5" y="1686.1"/><use href="#mL" x="1345.3" y="1688.4"/><use href="#mL" x="1352.1" y="1690.8"/><use href="#mL" x="1358.9" y="1693.1"/><use href="#mL" x="1365.7" y="1695.4"/><use href="#mL" x="1372.5" y="1697.7"/><use href="#mL" x="1379.4" y="1700.0"/><use href="#mL" x="1386.2" y="1702.3"/><use href="#mL" x="1393.0" y="1704.6"/><use href="#mL" x="1399.8" y="1706.8"/><use href="#mL" x="1406.6" y="1709.1"/><use href="#mL" x="1413.4" y="1711.3"/><use href="#mL" x="1420.2" y="1713.5"/><use href="#mL" x="1427.1" y="1715.7"/><use href="#mL" x="1433.9" y="1717.9"/><use href="#mL" x="1440.7" y="1720.1"/><use href="#mL" x="1447.5" y="1722.3"/><use href="#mL" x="1454.3" y="1724.4"/><use href="#mL" x="1461.1" y="1726.5"/><use href="#mL" x="1468.0" y="1728.7"/><use href="#mL" x="1474.8" y="1730.8"/><use href="#mL" x="1481.6" y="1732.9"/><use href="#mL" x="1488.4" y="1735.0"/><use href="#mL" x="1495.2" y="1737.1"/><use href="#mL" x="1502.0" y="1739.2"/><use href="#mL" x="1508.9" y="1741.2"/><use href="#mL" x="1515.7" y="1743.3"/><use href="#mL" x="1522.5" y="1745.3"/><use href="#mL" x="1529.3" y="1747.3"/><use href="#mL" x="1536.1" y="1749.4"/><use href="#mL" x="1542.9" y="1751.4"/><use href="#mL" x="1549.8" y="1753.4"/><use href="#mL" x="1556.6" y="1755.4"/><use href="#mL" x="1563.4" y="1757.3"/><use href="#mL" x="1570.2" y="1759.3"/><use href="#mL" x="1577.0" y="1761.3"/><use href="#mL" x="1583.8" y="1763.2"/><use href="#mL" x="1590.6" y="1765.2"/><use href="#mL" x="1597.5" y="1767.1"/><use href="#mL" x="1604.3" y="1769.0"/><use href="#mL" x="1611.1" y="1770.9"/><use href="#mL" x="1617.9" y="1772.8"/><use href="#mL" x="1624.7" y="1774.7"/><use href="#mL" x="1631.5" y="1776.6"/><use href="#mL" x="1638.4" y="1778.5"/><use href="#mL" x="1645.2" y="1780.3"/><use href="#mL" x="1652.0" y="1782.2"/><use href="#mL" x="1658.8" y="1784.0"/><use href="#mL" x="1665.6" y="1785.9"/><use href="#mL" x="1672.4" y="1787.7"/><use href="#mL" x="1679.3" y="1789.5"/><use href="#mL" x="1686.1" y="1791.3"/><use href="#mL" x="1692.9" y="1793.2"/><use href="#mL" x="1699.7" y="1794.9"/><use href="#mL" x="1706.5" y="1796.7"/><use href="#mL" x="1713.3" y="1798.5"/><use href="#mL" x="1720.2" y="1800.3"/><use href="#mL" x="1727.0" y="1802.1"/><use href="#mL" x="1733.8" y="1803.8"/><use href="#mL" x="1740.6" y="1805.6"/><use href="#mL" x="1747.4" y="1807.3"/><use href="#mL" x="1754.2" y="1809.0"/><use href="#mL" x="1761.0" y="1810.8"/><use href="#mL" x="1767.9" y="1812.5"/><use href="#mL" x="1774.7" y="1814.2"/><use href="#mL" x="1781.5" y="1815.9"/><use href="#mL" x="1788.3" y="1817.6"/><use href="#mL" x="1795.1" y="1819.3"/><use href="#mL" x="1801.9" y="1821.0"/><use href="#mL" x="1808.8" y="1822.6"/><use href="#mL" x="1815.6" y="1824.3"/><use href="#mL" x="1822.4" y="1826.0"/><use href="#mL" x="1829.2" y="1827.6"/><use href="#mL" x="1836.0" y="1829.3"/><use href="#mL" x="1842.8" y="1830.9"/><use href="#mL" x="1849.7" y="1832.5"/><use href="#mL" x="1856.5" y="1834.1"/><use href="#mL" x="1863.3" y="1835.8"/><use href="#mL" x="1870.1" y="1837.4"/><use href="#mL" x="1876.9" y="1839.0"/><use href="#mL" x="1883.7" y="1840.6"/><use href="#mL" x="1890.6" y="1842.2"/><use href="#mL" x="1897.4" y="1843.8"/></g>
<polyline points="213.8,477.2 220.6,422.9 227.4,393.9 234.3,365.9 241.1,400.6 247.9,486.2 254.7,598.1 261.5,744.1 268.3,728.8 275.2,553.9 282.0,414.0 288.8,345.0 295.6,362.6 302.4,516.6 309.2,701.3 316.1,786.3 322.9,931.6 329.7,1199.7 336.5,1199.7 343.3,1038.8 350.1,981.7 357.0,955.8 363.8,943.8 370.6,941.5 377.4,943.7 384.2,950.2 391.0,958.5 397.8,968.8 404.7,980.1 411.5,992.1 418.3,1004.4 425.1,1016.2 431.9,1028.5 438.7,1040.8 445.6,1052.7 452.4,1064.8 459.2,1076.8 466.0,1087.8 472.8,1098.8 479.6,1109.9 486.5,1119.8 493.3,1130.8 500.1,1140.8 506.9,1149.9 513.7,1159.8 520.5,1167.8 527.4,1177.0 534.2,1185.9 541.0,1193.9 547.8,1202.7 554.6,1210.9 561.4,1219.1 568.2,1227.4 575.1,1235.2 581.9,1242.8 588.7,1250.0 595.5,1257.2 602.3,1264.5 609.1,1271.6 616.0,1278.5 622.8,1285.3 629.6,1291.9 636.4,1298.5 643.2,1305.0 650.0,1311.3 656.9,1317.6 663.7,1323.7 670.5,1329.7 677.3,1335.7 684.1,1341.6 690.9,1347.3 697.8,1353.0 704.6,1358.6 711.4,1364.1 718.2,1369.6 725.0,1375.0 731.8,1380.2 738.6,1385.5 745.5,1390.6 752.3,1395.7 759.1,1400.7 765.9,1405.7 772.7,1410.6 779.5,1415.4 786.4,1420.1 793.2,1424.9 800.0,1429.5 806.8,1434.1 813.6,1438.6 820.4,1443.1 827.3,1447.6 834.1,1451.9 840.9,1456.3 847.7,1460.6 854.5,1464.8 861.3,1469.0 868.2,1473.1 875.0,1477.2 881.8,1481.3 888.6,1485.3 895.4,1489.3 902.2,1493.2 909.0,1497.1 915.9,1501.0 922.7,1504.8 929.5,1508.6 936.3,1512.3 943.1,1516.0 949.9,1519.7 956.8,1523.3 963.6,1526.9 970.4,1530.5 977.2,1534.0 984.0,1537.5 990.8,1541.0 997.7,1544.4 1004.5,1547.8 1011.3,1551.2 1018.1,1554.5 1024.9,1557.9 1031.7,1561.2 1038.6,1564.4 1045.4,1567.7 1052.2,1570.9 1059.0,1574.1 1065.8,1577.2 1072.6,1580.3 1079.4,1583.4 1086.3,1586.5 1093.1,1589.6 1099.9,1592.6 1106.7,1595.6 1113.5,1598.6 1120.3,1601.6 1127.2,1604.5 1134.0,1607.4 1140.8,1610.3 1147.6,1613.2 1154.4,1616.1 1161.2,1618.9 1168.1,1621.7 1174.9,1624.5 1181.7,1627.3 1188.5,1630.0 1195.3,1632.7 1202.1,1635.5 1209.0,1638.1 1215.8,1640.8 1222.6,1643.5 1229.4,1646.1 1236.2,1648.7 1243.0,1651.3 1249.8,1653.9 1256.7,1656.5 1263.5,1659.0 1270.3,1661.6 1277.1,1664.1 1283.9,1666.6 1290.7,1669.1 1297.6,1671.6 1304.4,1674.0 1311.2,1676.4 1318.0,1678.9 1324.8,1681.3 1331.6,1683.7 1338.5,1686.1 1345.3,1688.4 1352.1,1690.8 1358.9,1693.1 1365.7,1695.4 1372.5,1697.7 1379.4,1700.0 1386.2,1702.3 1393.0,1704.6 1399.8,1706.8 1406.6,1709.1 1413.4,1711.3 1420.2,1713.5 1427.1,1715.7 1433.9,1717.9 1440.7,1720.1 1447.5,1722.3 1454.3,1724.4 1461.1,1726.5 1468.0,1728.7 1474.8,1730.8 1481.6,1732.9 1488.4,1735.0 1495.2,1737.1 1502.0,1739.2 1508.9,1741.2 1515.7,1743.3 1522.5,1745.3 1529.3,1747.3 1536.1,1749.4 1542.9,1751.4 1549.8,1753.4 1556.6,1755.4 1563.4,1757.3 1570.2,1759.3 1577.0,1761.3 1583.8,1763.2 1590.6,1765.2 1597.5,1767.1 1604.3,1769.0 1611.1,1770.9 1617.9,1772.8 1624.7,1774.7 1631.5,1776.6 1638.4,1778.5 1645.2,1780.3 1652.0,1782.2 1658.8,1784.0 1665.6,1785.9 1672.4,1787.7 1679.3,1789.5 1686.1,1791.3 1692.9,1793.2 1699.7,1794.9 1706.5,1796.7 1713.3,1798.5 1720.2,1800.3 1727.0,1802.1 1733.8,1803.8 1740.6,1805.6 1747.4,1807.3 1754.2,1809.0 1761.0,1810.8 1767.9,1812.5 1774.7,1814.2 1781.5,1815.9 1788.3,1817.6 1795.1,1819.3 1801.9,1821.0 1808.8,1822.6 1815.6,1824.3 1822.4,1826.0 1829.2,1827.6 1836.0,1829.3 1842.8,1830.9 1849.7,1832.5 1856.5,1834.1 1863.3,1835.8 1870.1,1837.4 1876.9,1839.0 1883.7,1840.6 1890.6,1842.2 1897.4,1843.8" fill="none" stroke="#000" stroke-width="8.4" stroke-linejoin="round"/>
<g><use href="#mP" x="213.8" y="477.2"/><use href="#mP" x="220.6" y="422.9"/><use href="#mP" x="227.4" y="393.9"/><use href="#mP" x="234.3" y="365.9"/><use href="#mP" x="241.1" y="400.6"/><use href="#mP" x="247.9" y="486.2"/><use href="#mP" x="254.7" y="598.1"/><use href="#mP" x="261.5" y="744.1"/><use href="#mP" x="268.3" y="728.8"/><use href="#mP" x="275.2" y="553.9"/><use href="#mP" x="282.0" y="414.0"/><use href="#mP" x="288.8" y="345.0"/><use href="#mP" x="295.6" y="362.6"/><use href="#mP" x="302.4" y="516.6"/><use href="#mP" x="309.2" y="701.3"/><use href="#mP" x="316.1" y="786.3"/><use href="#mP" x="322.9" y="931.6"/><use href="#mP" x="329.7" y="1199.7"/><use href="#mP" x="336.5" y="1199.7"/><use href="#mP" x="343.3" y="1038.8"/><use href="#mP" x="350.1" y="981.7"/><use href="#mP" x="357.0" y="955.8"/><use href="#mP" x="363.8" y="943.8"/><use href="#mP" x="370.6" y="941.5"/><use href="#mP" x="377.4" y="943.7"/><use href="#mP" x="384.2" y="950.2"/><use href="#mP" x="391.0" y="958.5"/><use href="#mP" x="397.8" y="968.8"/><use href="#mP" x="404.7" y="980.1"/><use href="#mP" x="411.5" y="992.1"/><use href="#mP" x="418.3" y="1004.4"/><use href="#mP" x="425.1" y="1016.2"/><use href="#mP" x="431.9" y="1028.5"/><use href="#mP" x="438.7" y="1040.8"/><use href="#mP" x="445.6" y="1052.7"/><use href="#mP" x="452.4" y="1064.8"/><use href="#mP" x="459.2" y="1076.8"/><use href="#mP" x="466.0" y="1087.8"/><use href="#mP" x="472.8" y="1098.8"/><use href="#mP" x="479.6" y="1109.9"/><use href="#mP" x="486.5" y="1119.8"/><use href="#mP" x="493.3" y="1130.8"/><use href="#mP" x="500.1" y="1140.8"/><use href="#mP" x="506.9" y="1149.9"/><use href="#mP" x="513.7" y="1159.8"/><use href="#mP" x="520.5" y="1167.8"/><use href="#mP" x="527.4" y="1177.0"/><use href="#mP" x="534.2" y="1185.9"/><use href="#mP" x="541.0" y="1193.9"/><use href="#mP" x="547.8" y="1202.7"/><use href="#mP" x="554.6" y="1210.9"/><use href="#mP" x="561.4" y="1219.1"/><use href="#mP" x="568.2" y="1227.4"/><use href="#mP" x="575.1" y="1235.2"/><use href="#mP" x="581.9" y="1242.8"/><use href="#mP" x="588.7" y="1250.0"/><use href="#mP" x="595.5" y="1257.2"/><use href="#mP" x="602.3" y="1264.5"/><use href="#mP" x="609.1" y="1271.6"/><use href="#mP" x="616.0" y="1278.5"/><use href="#mP" x="622.8" y="1285.3"/><use href="#mP" x="629.6" y="1291.9"/><use href="#mP" x="636.4" y="1298.5"/><use href="#mP" x="643.2" y="1305.0"/><use href="#mP" x="650.0" y="1311.3"/><use href="#mP" x="656.9" y="1317.6"/><use href="#mP" x="663.7" y="1323.7"/><use href="#mP" x="670.5" y="1329.7"/><use href="#mP" x="677.3" y="1335.7"/><use href="#mP" x="684.1" y="1341.6"/><use href="#mP" x="690.9" y="1347.3"/><use href="#mP" x="697.8" y="1353.0"/><use href="#mP" x="704.6" y="1358.6"/><use href="#mP" x="711.4" y="1364.1"/><use href="#mP" x="718.2" y="1369.6"/><use href="#mP" x="725.0" y="1375.0"/><use href="#mP" x="731.8" y="1380.2"/><use href="#mP" x="738.6" y="1385.5"/><use href="#mP" x="745.5" y="1390.6"/><use href="#mP" x="752.3" y="1395.7"/><use href="#mP" x="759.1" y="1400.7"/><use href="#mP" x="765.9" y="1405.7"/><use href="#mP" x="772.7" y="1410.6"/><use href="#mP" x="779.5" y="1415.4"/><use href="#mP" x="786.4" y="1420.1"/><use href="#mP" x="793.2" y="1424.9"/><use href="#mP" x="800.0" y="1429.5"/><use href="#mP" x="806.8" y="1434.1"/><use href="#mP" x="813.6" y="1438.6"/><use href="#mP" x="820.4" y="1443.1"/><use href="#mP" x="827.3" y="1447.6"/><use href="#mP" x="834.1" y="1451.9"/><use href="#mP" x="840.9" y="1456.3"/><use href="#mP" x="847.7" y="1460.6"/><use href="#mP" x="854.5" y="1464.8"/><use href="#mP" x="861.3" y="1469.0"/><use href="#mP" x="868.2" y="1473.1"/><use href="#mP" x="875.0" y="1477.2"/><use href="#mP" x="881.8" y="1481.3"/><use href="#mP" x="888.6" y="1485.3"/><use href="#mP" x="895.4" y="1489.3"/><use href="#mP" x="902.2" y="1493.2"/><use href="#mP" x="909.0" y="1497.1"/><use href="#mP" x="915.9" y="1501.0"/><use href="#mP" x="922.7" y="1504.8"/><use href="#mP" x="929.5" y="1508.6"/><use href="#mP" x="936.3" y="1512.3"/><use href="#mP" x="943.1" y="1516.0"/><use href="#mP" x="949.9" y="1519.7"/><use href="#mP" x="956.8" y="1523.3"/><use href="#mP" x="963.6" y="1526.9"/><use href="#mP" x="970.4" y="1530.5"/><use href="#mP" x="977.2" y="1534.0"/><use href="#mP" x="984.0" y="1537.5"/><use href="#mP" x="990.8" y="1541.0"/><use href="#mP" x="997.7" y="1544.4"/><use href="#mP" x="1004.5" y="1547.8"/><use href="#mP" x="1011.3" y="1551.2"/><use href="#mP" x="1018.1" y="1554.5"/><use href="#mP" x="1024.9" y="1557.9"/><use href="#mP" x="1031.7" y="1561.2"/><use href="#mP" x="1038.6" y="1564.4"/><use href="#mP" x="1045.4" y="1567.7"/><use href="#mP" x="1052.2" y="1570.9"/><use href="#mP" x="1059.0" y="1574.1"/><use href="#mP" x="1065.8" y="1577.2"/><use href="#mP" x="1072.6" y="1580.3"/><use href="#mP" x="1079.4" y="1583.4"/><use href="#mP" x="1086.3" y="1586.5"/><use href="#mP" x="1093.1" y="1589.6"/><use href="#mP" x="1099.9" y="1592.6"/><use href="#mP" x="1106.7" y="1595.6"/><use href="#mP" x="1113.5" y="1598.6"/><use href="#mP" x="1120.3" y="1601.6"/><use href="#mP" x="1127.2" y="1604.5"/><use href="#mP" x="1134.0" y="1607.4"/><use href="#mP" x="1140.8" y="1610.3"/><use href="#mP" x="1147.6" y="1613.2"/><use href="#mP" x="1154.4" y="1616.1"/><use href="#mP" x="1161.2" y="1618.9"/><use href="#mP" x="1168.1" y="1621.7"/><use href="#mP" x="1174.9" y="1624.5"/><use href="#mP" x="1181.7" y="1627.3"/><use href="#mP" x="1188.5" y="1630.0"/><use href="#mP" x="1195.3" y="1632.7"/><use href="#mP" x="1202.1" y="1635.5"/><use href="#mP" x="1209.0" y="1638.1"/><use href="#mP" x="1215.8" y="1640.8"/><use href="#mP" x="1222.6" y="1643.5"/><use href="#mP" x="1229.4" y="1646.1"/><use href="#mP" x="1236.2" y="1648.7"/><use href="#mP" x="1243.0" y="1651.3"/><use href="#mP" x="1249.8" y="1653.9"/><use href="#mP" x="1256.7" y="1656.5"/><use href="#mP" x="1263.5" y="1659.0"/><use href="#mP" x="1270.3" y="1661.6"/><use href="#mP" x="1277.1" y="1664.1"/><use href="#mP" x="1283.9" y="1666.6"/><use href="#mP" x="1290.7" y="1669.1"/><use href="#mP" x="1297.6" y="1671.6"/><use href="#mP" x="1304.4" y="1674.0"/><use href="#mP" x="1311.2" y="1676.4"/><use href="#mP" x="1318.0" y="1678.9"/><use href="#mP" x="1324.8" y="1681.3"/><use href="#mP" x="1331.6" y="1683.7"/><use href="#mP" x="1338.5" y="1686.1"/><use href="#mP" x="1345.3" y="1688.4"/><use href="#mP" x="1352.1" y="1690.8"/><use href="#mP" x="1358.9" y="1693.1"/><use href="#mP" x="1365.7" y="1695.4"/><use href="#mP" x="1372.5" y="1697.7"/><use href="#mP" x="1379.4" y="1700.0"/><use href="#mP" x="1386.2" y="1702.3"/><use href="#mP" x="1393.0" y="1704.6"/><use href="#mP" x="1399.8" y="1706.8"/><use href="#mP" x="1406.6" y="1709.1"/><use href="#mP" x="1413.4" y="1711.3"/><use href="#mP" x="1420.2" y="1713.5"/><use href="#mP" x="1427.1" y="1715.7"/><use href="#mP" x="1433.9" y="1717.9"/><use href="#mP" x="1440.7" y="1720.1"/><use href="#mP" x="1447.5" y="1722.3"/><use href="#mP" x="1454.3" y="1724.4"/><use href="#mP" x="1461.1" y="1726.5"/><use href="#mP" x="1468.0" y="1728.7"/><use href="#mP" x="1474.8" y="1730.8"/><use href="#mP" x="1481.6" y="1732.9"/><use href="#mP" x="1488.4" y="1735.0"/><use href="#mP" x="1495.2" y="1737.1"/><use href="#mP" x="1502.0" y="1739.2"/><use href="#mP" x="1508.9" y="1741.2"/><use href="#mP" x="1515.7" y="1743.3"/><use href="#mP" x="1522.5" y="1745.3"/><use href="#mP" x="1529.3" y="1747.3"/><use href="#mP" x="1536.1" y="1749.4"/><use href="#mP" x="1542.9" y="1751.4"/><use href="#mP" x="1549.8" y="1753.4"/><use href="#mP" x="1556.6" y="1755.4"/><use href="#mP" x="1563.4" y="1757.3"/><use href="#mP" x="1570.2" y="1759.3"/><use href="#mP" x="1577.0" y="1761.3"/><use href="#mP" x="1583.8" y="1763.2"/><use href="#mP" x="1590.6" y="1765.2"/><use href="#mP" x="1597.5" y="1767.1"/><use href="#mP" x="1604.3" y="1769.0"/><use href="#mP" x="1611.1" y="1770.9"/><use href="#mP" x="1617.9" y="1772.8"/><use href="#mP" x="1624.7" y="1774.7"/><use href="#mP" x="1631.5" y="1776.6"/><use href="#mP" x="1638.4" y="1778.5"/><use href="#mP" x="1645.2" y="1780.3"/><use href="#mP" x="1652.0" y="1782.2"/><use href="#mP" x="1658.8" y="1784.0"/><use href="#mP" x="1665.6" y="1785.9"/><use href="#mP" x="1672.4" y="1787.7"/><use href="#mP" x="1679.3" y="1789.5"/><use href="#mP" x="1686.1" y="1791.3"/><use href="#mP" x="1692.9" y="1793.2"/><use href="#mP" x="1699.7" y="1794.9"/><use href="#mP" x="1706.5" y="1796.7"/><use href="#mP" x="1713.3" y="1798.5"/><use href="#mP" x="1720.2" y="1800.3"/><use href="#mP" x="1727.0" y="1802.1"/><use href="#mP" x="1733.8" y="1803.8"/><use href="#mP" x="1740.6" y="1805.6"/><use href="#mP" x="1747.4" y="1807.3"/><use href="#mP" x="1754.2" y="1809.0"/><use href="#mP" x="1761.0" y="1810.8"/><use href="#mP" x="1767.9" y="1812.5"/><use href="#mP" x="1774.7" y="1814.2"/><use href="#mP" x="1781.5" y="1815.9"/><use href="#mP" x="1788.3" y="1817.6"/><use href="#mP" x="1795.1" y="1819.3"/><use href="#mP" x="1801.9" y="1821.0"/><use href="#mP" x="1808.8" y="1822.6"/><use href="#mP" x="1815.6" y="1824.3"/><use href="#mP" x="1822.4" y="1826.0"/><use href="#mP" x="1829.2" y="1827.6"/><use href="#mP" x="1836.0" y="1829.3"/><use href="#mP" x="1842.8" y="1830.9"/><use href="#mP" x="1849.7" y="1832.5"/><use href="#mP" x="1856.5" y="1834.1"/><use href="#mP" x="1863.3" y="1835.8"/><use href="#mP" x="1870.1" y="1837.4"/><use href="#mP" x="1876.9" y="1839.0"/><use href="#mP" x="1883.7" y="1840.6"/><use href="#mP" x="1890.6" y="1842.2"/><use href="#mP" x="1897.4" y="1843.8"/></g>
<polyline points="213.8,477.2 220.6,422.9 227.4,393.9 234.3,365.9 241.1,400.6 247.9,486.2 254.7,598.1 261.5,744.1 268.3,728.8 275.2,553.9 282.0,414.0 288.8,345.0 295.6,362.6 302.4,516.6 309.2,701.3 316.1,786.3 322.9,931.6 329.7,1199.7 336.5,1199.7 343.3,1038.8 350.1,981.7 357.0,955.8 363.8,943.8 370.6,941.5 377.4,943.7 384.2,950.2 391.0,958.5 397.8,968.8 404.7,980.1 411.5,992.1 418.3,1004.4 425.1,1016.2 431.9,1028.5 438.7,1040.8 445.6,1052.7 452.4,1064.8 459.2,1076.8 466.0,1087.8 472.8,1098.8 479.6,1109.9 486.5,1119.8 493.3,1130.8 500.1,1140.8 506.9,1149.9 513.7,1159.8 520.5,1167.8 527.4,1177.0 534.2,1185.9 541.0,1193.9 547.8,1202.7 554.6,1210.9 561.4,1219.1 568.2,1227.4 575.1,1235.2 581.9,1242.8 588.7,1250.0 595.5,1257.2 602.3,1264.5 609.1,1271.6 616.0,1278.5 622.8,1285.3 629.6,1291.9 636.4,1298.5 643.2,1305.0 650.0,1311.3 656.9,1317.6 663.7,1323.7 670.5,1329.7 677.3,1335.7 684.1,1341.6 690.9,1347.3 697.8,1353.0 704.6,1358.6 711.4,1364.1 718.2,1369.6 725.0,1375.0 731.8,1380.2 738.6,1385.5 745.5,1390.6 752.3,1395.7 759.1,1400.7 765.9,1405.7 772.7,1410.6 779.5,1415.4 786.4,1420.1 793.2,1424.9 800.0,1429.5 806.8,1434.1 813.6,1438.6 820.4,1443.1 827.3,1447.6 834.1,1451.9 840.9,1456.3 847.7,1460.6 854.5,1464.8 861.3,1469.0 868.2,1473.1 875.0,1477.2 881.8,1481.3 888.6,1485.3 895.4,1489.3 902.2,1493.2 909.0,1497.1 915.9,1501.0 922.7,1504.8 929.5,1508.6 936.3,1512.3 943.1,1516.0 949.9,1519.7 956.8,1523.3 963.6,1526.9 970.4,1530.5 977.2,1534.0 984.0,1537.5 990.8,1541.0 997.7,1544.4 1004.5,1547.8 1011.3,1551.2 1018.1,1554.5 1024.9,1557.9 1031.7,1561.2 1038.6,1564.4 1045.4,1567.7 1052.2,1570.9 1059.0,1574.1 1065.8,1577.2 1072.6,1580.3 1079.4,1583.4 1086.3,1586.5 1093.1,1589.6 1099.9,1592.6 1106.7,1595.6 1113.5,1598.6 1120.3,1601.6 1127.2,1604.5 1134.0,1607.4 1140.8,1610.3 1147.6,1613.2 1154.4,1616.1 1161.2,1618.9 1168.1,1621.7 1174.9,1624.5 1181.7,1627.3 1188.5,1630.0 1195.3,1632.7 1202.1,1635.5 1209.0,1638.1 1215.8,1640.8 1222.6,1643.5 1229.4,1646.1 1236.2,1648.7 1243.0,1651.3 1249.8,1653.9 1256.7,1656.5 1263.5,1659.0 1270.3,1661.6 1277.1,1664.1 1283.9,1666.6 1290.7,1669.1 1297.6,1671.6 1304.4,1674.0 1311.2,1676.4 1318.0,1678.9 1324.8,1681.3 1331.6,1683.7 1338.5,1686.1 1345.3,1688.4 1352.1,1690.8 1358.9,1693.1 1365.7,1695.4 1372.5,1697.7 1379.4,1700.0 1386.2,1702.3 1393.0,1704.6 1399.8,1706.8 1406.6,1709.1 1413.4,1711.3 1420.2,1713.5 1427.1,1715.7 1433.9,1717.9 1440.7,1720.1 1447.5,1722.3 1454.3,1724.4 1461.1,1726.5 1468.0,1728.7 1474.8,1730.8 1481.6,1732.9 1488.4,1735.0 1495.2,1737.1 1502.0,1739.2 1508.9,1741.2 1515.7,1743.3 1522.5,1745.3 1529.3,1747.3 1536.1,1749.4 1542.9,1751.4 1549.8,1753.4 1556.6,1755.4 1563.4,1757.3 1570.2,1759.3 1577.0,1761.3 1583.8,1763.2 1590.6,1765.2 1597.5,1767.1 1604.3,1769.0 1611.1,1770.9 1617.9,1772.8 1624.7,1774.7 1631.5,1776.6 1638.4,1778.5 1645.2,1780.3 1652.0,1782.2 1658.8,1784.0 1665.6,1785.9 1672.4,1787.7 1679.3,1789.5 1686.1,1791.3 1692.9,1793.2 1699.7,1794.9 1706.5,1796.7 1713.3,1798.5 1720.2,1800.3 1727.0,1802.1 1733.8,1803.8 1740.6,1805.6 1747.4,1807.3 1754.2,1809.0 1761.0,1810.8 1767.9,1812.5 1774.7,1814.2 1781.5,1815.9 1788.3,1817.6 1795.1,1819.3 1801.9,1821.0 1808.8,1822.6 1815.6,1824.3 1822.4,1826.0 1829.2,1827.6 1836.0,1829.3 1842.8,1830.9 1849.7,1832.5 1856.5,1834.1 1863.3,1835.8 1870.1,1837.4 1876.9,1839.0 1883.7,1840.6 1890.6,1842.2 1897.4,1843.8" fill="none" stroke="#00f" stroke-width="8.4" stroke-linejoin="round"/>
<g><use href="#mT" x="213.8" y="477.2"/><use href="#mT" x="220.6" y="422.9"/><use href="#mT" x="227.4" y="393.9"/><use href="#mT" x="234.3" y="365.9"/><use href="#mT" x="241.1" y="400.6"/><use href="#mT" x="247.9" y="486.2"/><use href="#mT" x="254.7" y="598.1"/><use href="#mT" x="261.5" y="744.1"/><use href="#mT" x="268.3" y="728.8"/><use href="#mT" x="275.2" y="553.9"/><use href="#mT" x="282.0" y="414.0"/><use href="#mT" x="288.8" y="345.0"/><use href="#mT" x="295.6" y="362.6"/><use href="#mT" x="302.4" y="516.6"/><use href="#mT" x="309.2" y="701.3"/><use href="#mT" x="316.1" y="786.3"/><use href="#mT" x="322.9" y="931.6"/><use href="#mT" x="329.7" y="1199.7"/><use href="#mT" x="336.5" y="1199.7"/><use href="#mT" x="343.3" y="1038.8"/><use href="#mT" x="350.1" y="981.7"/><use href="#mT" x="357.0" y="955.8"/><use href="#mT" x="363.8" y="943.8"/><use href="#mT" x="370.6" y="941.5"/><use href="#mT" x="377.4" y="943.7"/><use href="#mT" x="384.2" y="950.2"/><use href="#mT" x="391.0" y="958.5"/><use href="#mT" x="397.8" y="968.8"/><use href="#mT" x="404.7" y="980.1"/><use href="#mT" x="411.5" y="992.1"/><use href="#mT" x="418.3" y="1004.4"/><use href="#mT" x="425.1" y="1016.2"/><use href="#mT" x="431.9" y="1028.5"/><use href="#mT" x="438.7" y="1040.8"/><use href="#mT" x="445.6" y="1052.7"/><use href="#mT" x="452.4" y="1064.8"/><use href="#mT" x="459.2" y="1076.8"/><use href="#mT" x="466.0" y="1087.8"/><use href="#mT" x="472.8" y="1098.8"/><use href="#mT" x="479.6" y="1109.9"/><use href="#mT" x="486.5" y="1119.8"/><use href="#mT" x="493.3" y="1130.8"/><use href="#mT" x="500.1" y="1140.8"/><use href="#mT" x="506.9" y="1149.9"/><use href="#mT" x="513.7" y="1159.8"/><use href="#mT" x="520.5" y="1167.8"/><use href="#mT" x="527.4" y="1177.0"/><use href="#mT" x="534.2" y="1185.9"/><use href="#mT" x="541.0" y="1193.9"/><use href="#mT" x="547.8" y="1202.7"/><use href="#mT" x="554.6" y="1210.9"/><use href="#mT" x="561.4" y="1219.1"/><use href="#mT" x="568.2" y="1227.4"/><use href="#mT" x="575.1" y="1235.2"/><use href="#mT" x="581.9" y="1242.8"/><use href="#mT" x="588.7" y="1250.0"/><use href="#mT" x="595.5" y="1257.2"/><use href="#mT" x="602.3" y="1264.5"/><use href="#mT" x="609.1" y="1271.6"/><use href="#mT" x="616.0" y="1278.5"/><use href="#mT" x="622.8" y="1285.3"/><use href="#mT" x="629.6" y="1291.9"/><use href="#mT" x="636.4" y="1298.5"/><use href="#mT" x="643.2" y="1305.0"/><use href="#mT" x="650.0" y="1311.3"/><use href="#mT" x="656.9" y="1317.6"/><use href="#mT" x="663.7" y="1323.7"/><use href="#mT" x="670.5" y="1329.7"/><use href="#mT" x="677.3" y="1335.7"/><use href="#mT" x="684.1" y="1341.6"/><use href="#mT" x="690.9" y="1347.3"/><use href="#mT" x="697.8" y="1353.0"/><use href="#mT" x="704.6" y="1358.6"/><use href="#mT" x="711.4" y="1364.1"/><use href="#mT" x="718.2" y="1369.6"/><use href="#mT" x="725.0" y="1375.0"/><use href="#mT" x="731.8" y="1380.2"/><use href="#mT" x="738.6" y="1385.5"/><use href="#mT" x="745.5" y="1390.6"/><use href="#mT" x="752.3" y="1395.7"/><use href="#mT" x="759.1" y="1400.7"/><use href="#mT" x="765.9" y="1405.7"/><use href="#mT" x="772.7" y="1410.6"/><use href="#mT" x="779.5" y="1415.4"/><use href="#mT" x="786.4" y="1420.1"/><use href="#mT" x="793.2" y="1424.9"/><use href="#mT" x="800.0" y="1429.5"/><use href="#mT" x="806.8" y="1434.1"/><use href="#mT" x="813.6" y="1438.6"/><use href="#mT" x="820.4" y="1443.1"/><use href="#mT" x="827.3" y="1447.6"/><use href="#mT" x="834.1" y="1451.9"/><use href="#mT" x="840.9" y="1456.3"/><use href="#mT" x="847.7" y="1460.6"/><use href="#mT" x="854.5" y="1464.8"/><use href="#mT" x="861.3" y="1469.0"/><use href="#mT" x="868.2" y="1473.1"/><use href="#mT" x="875.0" y="1477.2"/><use href="#mT" x="881.8" y="1481.3"/><use href="#mT" x="888.6" y="1485.3"/><use href="#mT" x="895.4" y="1489.3"/><use href="#mT" x="902.2" y="1493.2"/><use href="#mT" x="909.0" y="1497.1"/><use href="#mT" x="915.9" y="1501.0"/><use href="#mT" x="922.7" y="1504.8"/><use href="#mT" x="929.5" y="1508.6"/><use href="#mT" x="936.3" y="1512.3"/><use href="#mT" x="943.1" y="1516.0"/><use href="#mT" x="949.9" y="1519.7"/><use href="#mT" x="956.8" y="1523.3"/><use href="#mT" x="963.6" y="1526.9"/><use href="#mT" x="970.4" y="1530.5"/><use href="#mT" x="977.2" y="1534.0"/><use href="#mT" x="984.0" y="1537.5"/><use href="#mT" x="990.8" y="1541.0"/><use href="#mT" x="997.7" y="1544.4"/><use href="#mT" x="1004.5" y="1547.8"/><use href="#mT" x="1011.3" y="1551.2"/><use href="#mT" x="1018.1" y="1554.5"/><use href="#mT" x="1024.9" y="1557.9"/><use href="#mT" x="1031.7" y="1561.2"/><use href="#mT" x="1038.6" y="1564.4"/><use href="#mT" x="1045.4" y="1567.7"/><use href="#mT" x="1052.2" y="1570.9"/><use href="#mT" x="1059.0" y="1574.1"/><use href="#mT" x="1065.8" y="1577.2"/><use href="#mT" x="1072.6" y="1580.3"/><use href="#mT" x="1079.4" y="1583.4"/><use href="#mT" x="1086.3" y="1586.5"/><use href="#mT" x="1093.1" y="1589.6"/><use href="#mT" x="1099.9" y="1592.6"/><use href="#mT" x="1106.7" y="1595.6"/><use href="#mT" x="1113.5" y="1598.6"/><use href="#mT" x="1120.3" y="1601.6"/><use href="#mT" x="1127.2" y="1604.5"/><use href="#mT" x="1134.0" y="1607.4"/><use href="#mT" x="1140.8" y="1610.3"/><use href="#mT" x="1147.6" y="1613.2"/><use href="#mT" x="1154.4" y="1616.1"/><use href="#mT" x="1161.2" y="1618.9"/><use href="#mT" x="1168.1" y="1621.7"/><use href="#mT" x="1174.9" y="1624.5"/><use href="#mT" x="1181.7" y="1627.3"/><use href="#mT" x="1188.5" y="1630.0"/><use href="#mT" x="1195.3" y="1632.7"/><use href="#mT" x="1202.1" y="1635.5"/><use href="#mT" x="1209.0" y="1638.1"/><use href="#mT" x="1215.8" y="1640.8"/><use href="#mT" x="1222.6" y="1643.5"/><use href="#mT" x="1229.4" y="1646.1"/><use href="#mT" x="1236.2" y="1648.7"/><use href="#mT" x="1243.0" y="1651.3"/><use href="#mT" x="1249.8" y="1653.9"/><use href="#mT" x="1256.7" y="1656.5"/><use href="#mT" x="1263.5" y="1659.0"/><use href="#mT" x="1270.3" y="1661.6"/><use href="#mT" x="1277.1" y="1664.1"/><use href="#mT" x="1283.9" y="1666.6"/><use href="#mT" x="1290.7" y="1669.1"/><use href="#mT" x="1297.6" y="1671.6"/><use href="#mT" x="1304.4" y="1674.0"/><use href="#mT" x="1311.2" y="1676.4"/><use href="#mT" x="1318.0" y="1678.9"/><use href="#mT" x="1324.8" y="1681.3"/><use href="#mT" x="1331.6" y="1683.7"/><use href="#mT" x="1338.5" y="1686.1"/><use href="#mT" x="1345.3" y="1688.4"/><use href="#mT" x="1352.1" y="1690.8"/><use href="#mT" x="1358.9" y="1693.1"/><use href="#mT" x="1365.7" y="1695.4"/><use href="#mT" x="1372.5" y="1697.7"/><use href="#mT" x="1379.4" y="1700.0"/><use href="#mT" x="1386.2" y="1702.3"/><use href="#mT" x="1393.0" y="1704.6"/><use href="#mT" x="1399.8" y="1706.8"/><use href="#mT" x="1406.6" y="1709.1"/><use href="#mT" x="1413.4" y="1711.3"/><use href="#mT" x="1420.2" y="1713.5"/><use href="#mT" x="1427.1" y="1715.7"/><use href="#mT" x="1433.9" y="1717.9"/><use href="#mT" x="1440.7" y="1720.1"/><use href="#mT" x="1447.5" y="1722.3"/><use href="#mT" x="1454.3" y="1724.4"/><use href="#mT" x="1461.1" y="1726.5"/><use href="#mT" x="1468.0" y="1728.7"/><use href="#mT" x="1474.8" y="1730.8"/><use href="#mT" x="1481.6" y="1732.9"/><use href="#mT" x="1488.4" y="1735.0"/><use href="#mT" x="1495.2" y="1737.1"/><use href="#mT" x="1502.0" y="1739.2"/><use href="#mT" x="1508.9" y="1741.2"/><use href="#mT" x="1515.7" y="1743.3"/><use href="#mT" x="1522.5" y="1745.3"/><use href="#mT" x="1529.3" y="1747.3"/><use href="#mT" x="1536.1" y="1749.4"/><use href="#mT" x="1542.9" y="1751.4"/><use href="#mT" x="1549.8" y="1753.4"/><use href="#mT" x="1556.6" y="1755.4"/><use href="#mT" x="1563.4" y="1757.3"/><use href="#mT" x="1570.2" y="1759.3"/><use href="#mT" x="1577.0" y="1761.3"/><use href="#mT" x="1583.8" y="1763.2"/><use href="#mT" x="1590.6" y="1765.2"/><use href="#mT" x="1597.5" y="1767.1"/><use href="#mT" x="1604.3" y="1769.0"/><use href="#mT" x="1611.1" y="1770.9"/><use href="#mT" x="1617.9" y="1772.8"/><use href="#mT" x="1624.7" y="1774.7"/><use href="#mT" x="1631.5" y="1776.6"/><use href="#mT" x="1638.4" y="1778.5"/><use href="#mT" x="1645.2" y="1780.3"/><use href="#mT" x="1652.0" y="1782.2"/><use href="#mT" x="1658.8" y="1784.0"/><use href="#mT" x="1665.6" y="1785.9"/><use href="#mT" x="1672.4" y="1787.7"/><use href="#mT" x="1679.3" y="1789.5"/><use href="#mT" x="1686.1" y="1791.3"/><use href="#mT" x="1692.9" y="1793.2"/><use href="#mT" x="1699.7" y="1794.9"/><use href="#mT" x="1706.5" y="1796.7"/><use href="#mT" x="1713.3" y="1798.5"/><use href="#mT" x="1720.2" y="1800.3"/><use href="#mT" x="1727.0" y="1802.1"/><use href="#mT" x="1733.8" y="1803.8"/><use href="#mT" x="1740.6" y="1805.6"/><use href="#mT" x="1747.4" y="1807.3"/><use href="#mT" x="1754.2" y="1809.0"/><use href="#mT" x="1761.0" y="1810.8"/><use href="#mT" x="1767.9" y="1812.5"/><use href="#mT" x="1774.7" y="1814.2"/><use href="#mT" x="1781.5" y="1815.9"/><use href="#mT" x="1788.3" y="1817.6"/><use href="#mT" x="1795.1" y="1819.3"/><use href="#mT" x="1801.9" y="1821.0"/><use href="#mT" x="1808.8" y="1822.6"/><use href="#mT" x="1815.6" y="1824.3"/><use href="#mT" x="1822.4" y="1826.0"/><use href="#mT" x="1829.2" y="1827.6"/><use href="#mT" x="1836.0" y="1829.3"/><use href="#mT" x="1842.8" y="1830.9"/><use href="#mT" x="1849.7" y="1832.5"/><use href="#mT" x="1856.5" y="1834.1"/><use href="#mT" x="1863.3" y="1835.8"/><use href="#mT" x="1870.1" y="1837.4"/><use href="#mT" x="1876.9" y="1839.0"/><use href="#mT" x="1883.7" y="1840.6"/><use href="#mT" x="1890.6" y="1842.2"/><use href="#mT" x="1897.4" y="1843.8"/></g>
<g font-family="'Liberation Sans',Arial,sans-serif" fill="#262626" stroke="#262626" stroke-width="0.35">
<text transform="translate(206.6 1913.0) scale(1 1.04)" font-size="52.2" text-anchor="middle">0</text>
<text transform="translate(547.0 1913.0) scale(1 1.04)" font-size="52.2" text-anchor="middle">50</text>
<text transform="translate(888.8 1913.0) scale(1 1.04)" font-size="52.2" text-anchor="middle">100</text>
<text transform="translate(1229.6 1913.0) scale(1 1.04)" font-size="52.2" text-anchor="middle">150</text>
<text transform="translate(1569.5 1913.0) scale(1 1.04)" font-size="52.2" text-anchor="middle">200</text>
<text transform="translate(1910.5 1913.0) scale(1 1.04)" font-size="52.2" text-anchor="middle">250</text>
<text transform="translate(108.3 81.0) scale(1 1.04)" font-size="52.2">10</text>
<text transform="translate(167.3 54.8) scale(1 1.04)" font-size="41.2">1</text>
<text transform="translate(108.0 528.0) scale(1 1.04)" font-size="52.2">10</text>
<text transform="translate(165.7 501.6) scale(1 1.04)" font-size="41.2">0</text>
<text transform="translate(93.2 975.0) scale(1 1.04)" font-size="52.2">10</text>
<text transform="translate(151.2 948.8) scale(1 1.04)" font-size="41.2">-</text>
<text transform="translate(167.0 948.8) scale(1 1.04)" font-size="41.2">1</text>
<text transform="translate(93.1 1421.8) scale(1 1.04)" font-size="52.2">10</text>
<text transform="translate(151.2 1395.9) scale(1 1.04)" font-size="41.2">-</text>
<text transform="translate(165.5 1395.9) scale(1 1.04)" font-size="41.2">2</text>
<text transform="translate(93.1 1873.0) scale(1 1.04)" font-size="52.2">10</text>
<text transform="translate(151.2 1846.6) scale(1 1.04)" font-size="41.2">-</text>
<text transform="translate(166.2 1846.6) scale(1 1.04)" font-size="41.2">3</text>
<text x="1059.3" y="1988" font-size="58.7" text-anchor="middle" letter-spacing="-0.56">Iteration number (n)</text>
<text transform="translate(69.9 947.3) rotate(-90)" font-size="58.7" text-anchor="middle" letter-spacing="-0.6">Errors</text>
</g>
<rect x="852.0" y="99.0" width="1011.0" height="495.0" fill="#fff" stroke="#262626" stroke-width="4"/>
<g font-family="'Liberation Sans',Arial,sans-serif" fill="#000" font-size="49.0">
<path d="M870 150.4H1054" stroke="#f00" stroke-width="9.3" fill="none"/>
<use href="#mA" x="962" y="150.4"/>
<text x="1067.5" y="161.1">Proposed</text>
<text x="1289.9" y="161.1">Alg.</text>
<text x="1389.4" y="161.1">(c</text>
<text x="1431.0" y="182.79999999999998" font-size="39.2">n,i</text>
<text x="1487.4" y="161.1">= 0)</text>
<path d="M870 243.0H1054" stroke="#0f0" stroke-width="8.4" fill="none"/>
<use href="#mO" x="962" y="243.0"/>
<text x="1067.5" y="256.0">Proposed</text>
<text x="1303.1" y="256.0">Alg.</text>
<text x="1402.2" y="256.0">(c</text>
<text x="1446.0" y="277.7" font-size="39.2">n,i</text>
<text x="1502.6" y="256.0">= (20)/(n</text>
<text transform="translate(1692.1 233.7) scale(1 1.04)" font-size="39.2">0.1</text>
<text x="1747.6" y="256.0">))</text>
<path d="M870 341.0H1054" stroke="#ff0" stroke-width="8.4" fill="none"/>
<use href="#mL" x="962" y="341.0"/>
<text x="1067.5" y="355.0">Proposed</text>
<text x="1303.1" y="355.0">Alg.</text>
<text x="1402.2" y="355.0">(c</text>
<text x="1446.0" y="376.7" font-size="39.2">n,i</text>
<text x="1502.6" y="355.0">= (40)/(n</text>
<text transform="translate(1692.1 332.7) scale(1 1.04)" font-size="39.2">0.01</text>
<text x="1769.4" y="355.0">))</text>
<path d="M870 439.1H1054" stroke="#000" stroke-width="8.4" fill="none"/>
<use href="#mP" x="962" y="439.1"/>
<text x="1067.5" y="453.9">Proposed</text>
<text x="1303.1" y="453.9">Alg.</text>
<text x="1402.2" y="453.9">(c</text>
<text x="1446.0" y="475.59999999999997" font-size="39.2">n,i</text>
<text x="1502.6" y="453.9">= (60)/(n</text>
<text transform="translate(1692.1 431.59999999999997) scale(1 1.04)" font-size="39.2">0.001</text>
<text x="1791.0" y="453.9">))</text>
<path d="M870 536.9H1054" stroke="#00f" stroke-width="8.4" fill="none"/>
<use href="#mT" x="962" y="536.9"/>
<text x="1067.5" y="550.2">Proposed</text>
<text x="1303.1" y="550.2">Alg.</text>
<text x="1402.2" y="550.2">(c</text>
<text x="1446.0" y="571.9000000000001" font-size="39.2">n,i</text>
<text x="1502.6" y="550.2">= (80)/(n</text>
<text transform="translate(1692.1 527.9000000000001) scale(1 1.04)" font-size="39.2">0.0001</text>
<text x="1813.3" y="550.2">))</text>
</g>
</svg>
</body></html>
